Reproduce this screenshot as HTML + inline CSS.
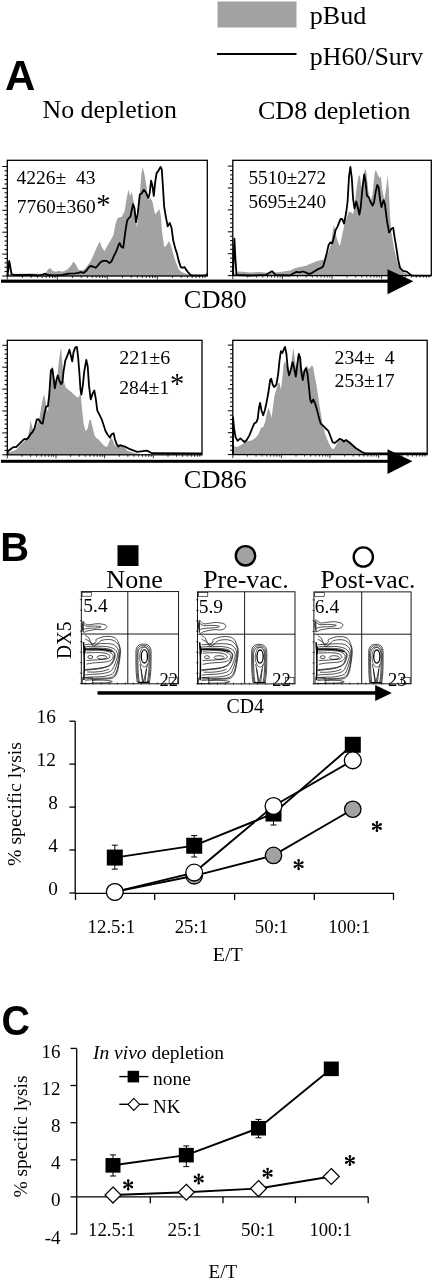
<!DOCTYPE html>
<html><head><meta charset="utf-8"><style>
html,body{margin:0;padding:0;background:#fff;width:434px;height:1280px;overflow:hidden}
svg{display:block;will-change:transform}
text{fill:#000}
</style></head><body>
<svg width="434" height="1280" viewBox="0 0 434 1280">
<rect width="434" height="1280" fill="#fff"/>
<rect x="217.5" y="1.5" width="79" height="26" fill="#a2a2a2"/>
<line x1="217" y1="54" x2="296.5" y2="54" stroke="#000" stroke-width="2"/>
<text x="309.8" y="23.9" style="font-family:'Liberation Serif',serif;font-size:24.5px;" textLength="56.5" lengthAdjust="spacingAndGlyphs" >pBud</text>
<text x="309.8" y="64.7" style="font-family:'Liberation Serif',serif;font-size:24.5px;" textLength="113.5" lengthAdjust="spacingAndGlyphs" >pH60/Surv</text>
<text x="5.0" y="90.4" style="font-family:'Liberation Sans',sans-serif;font-weight:bold;font-size:42px">A</text>
<text x="42.5" y="118.4" style="font-family:'Liberation Serif',serif;font-size:25.5px;" textLength="134.5" lengthAdjust="spacingAndGlyphs" >No depletion</text>
<text x="258" y="119.4" style="font-family:'Liberation Serif',serif;font-size:25.7px;" textLength="152.5" lengthAdjust="spacingAndGlyphs" >CD8 depletion</text>
<polygon points="7.5,276.0 8.0,274.0 30.0,273.4 39.7,273.7 46.1,272.9 47.7,269.7 50.2,268.1 52.6,270.8 55.8,271.8 59.0,270.8 62.3,271.8 67.1,269.7 71.1,265.6 73.5,261.6 76.0,264.8 78.4,269.7 81.6,270.5 84.8,268.9 88.1,264.8 90.0,262.3 92.8,256.8 96.2,248.5 99.7,241.6 101.8,247.1 104.5,251.2 107.3,245.7 110.7,240.2 113.5,234.7 115.6,223.6 117.7,218.1 121.8,216.7 124.6,211.2 126.6,198.7 128.4,189.7 130.1,196.0 131.8,191.8 133.6,201.5 135.6,215.3 137.0,227.7 138.4,215.3 139.8,194.6 141.4,173.8 142.8,166.9 144.6,175.2 146.7,187.7 148.3,200.1 150.4,198.0 152.4,201.5 153.8,208.4 155.2,214.6 157.3,211.8 159.4,209.1 160.7,215.3 162.1,231.9 164.2,247.1 166.3,245.7 169.0,240.9 171.1,245.7 173.2,254.0 175.9,262.3 178.7,269.2 181.5,272.0 187.0,274.1 189.8,274.8 195.0,275.5 207.0,275.5 207.0,276 7.5,276" fill="#a2a2a2"/>
<polyline points="7.5,276.0 8.3,270.0 9.2,260.8 10.2,266.0 11.5,274.0 14.0,275.0 30.0,275.0 39.7,275.3 42.9,274.5 45.3,273.7 47.7,275.0 54.2,275.3 62.3,275.0 68.7,273.7 75.2,273.4 78.4,272.9 80.8,272.1 84.0,272.9 86.5,270.5 88.9,267.3 90.5,266.0 92.8,266.5 95.5,267.8 97.6,265.8 100.4,262.3 103.1,260.9 106.6,260.9 109.4,263.0 111.4,261.6 113.5,256.8 116.3,251.2 118.3,245.7 119.7,243.0 121.1,246.4 123.2,247.8 125.3,231.9 127.1,220.8 128.7,218.1 130.4,216.7 131.5,211.2 133.1,204.2 134.5,208.4 136.0,222.2 137.7,213.9 139.8,194.6 141.8,193.2 143.9,189.7 146.0,192.5 148.3,198.0 149.7,193.2 151.1,180.7 152.4,185.6 153.8,196.0 155.2,182.1 156.6,173.1 158.7,170.4 160.5,166.9 161.8,169.7 162.8,184.9 164.2,207.0 165.6,215.3 167.7,226.4 169.7,222.9 171.5,227.7 173.2,240.2 175.3,248.5 177.1,254.0 178.7,260.9 180.8,267.1 182.9,267.8 184.5,267.1 186.3,269.9 188.4,272.7 190.5,274.8 192.5,275.4 206.0,275.2 207.3,274.0" fill="none" stroke="#000" stroke-width="1.8" stroke-linejoin="round"/>
<rect x="7.3" y="160.3" width="200.0" height="115.69999999999999" fill="none" stroke="#000" stroke-width="1.3"/>
<line x1="2.3" y1="276.0" x2="7.3" y2="276.0" stroke="#000" stroke-width="1"/>
<line x1="4.5" y1="271.6" x2="7.3" y2="271.6" stroke="#000" stroke-width="1"/>
<line x1="4.5" y1="267.2" x2="7.3" y2="267.2" stroke="#000" stroke-width="1"/>
<line x1="4.5" y1="262.9" x2="7.3" y2="262.9" stroke="#000" stroke-width="1"/>
<line x1="4.5" y1="258.5" x2="7.3" y2="258.5" stroke="#000" stroke-width="1"/>
<line x1="2.3" y1="254.1" x2="7.3" y2="254.1" stroke="#000" stroke-width="1"/>
<line x1="4.5" y1="249.7" x2="7.3" y2="249.7" stroke="#000" stroke-width="1"/>
<line x1="4.5" y1="245.3" x2="7.3" y2="245.3" stroke="#000" stroke-width="1"/>
<line x1="4.5" y1="241.0" x2="7.3" y2="241.0" stroke="#000" stroke-width="1"/>
<line x1="4.5" y1="236.6" x2="7.3" y2="236.6" stroke="#000" stroke-width="1"/>
<line x1="2.3" y1="232.2" x2="7.3" y2="232.2" stroke="#000" stroke-width="1"/>
<line x1="4.5" y1="227.8" x2="7.3" y2="227.8" stroke="#000" stroke-width="1"/>
<line x1="4.5" y1="223.4" x2="7.3" y2="223.4" stroke="#000" stroke-width="1"/>
<line x1="4.5" y1="219.1" x2="7.3" y2="219.1" stroke="#000" stroke-width="1"/>
<line x1="4.5" y1="214.7" x2="7.3" y2="214.7" stroke="#000" stroke-width="1"/>
<line x1="2.3" y1="210.3" x2="7.3" y2="210.3" stroke="#000" stroke-width="1"/>
<line x1="4.5" y1="205.9" x2="7.3" y2="205.9" stroke="#000" stroke-width="1"/>
<line x1="4.5" y1="201.5" x2="7.3" y2="201.5" stroke="#000" stroke-width="1"/>
<line x1="4.5" y1="197.2" x2="7.3" y2="197.2" stroke="#000" stroke-width="1"/>
<line x1="4.5" y1="192.8" x2="7.3" y2="192.8" stroke="#000" stroke-width="1"/>
<line x1="2.3" y1="188.4" x2="7.3" y2="188.4" stroke="#000" stroke-width="1"/>
<line x1="4.5" y1="184.0" x2="7.3" y2="184.0" stroke="#000" stroke-width="1"/>
<line x1="4.5" y1="179.6" x2="7.3" y2="179.6" stroke="#000" stroke-width="1"/>
<line x1="4.5" y1="175.3" x2="7.3" y2="175.3" stroke="#000" stroke-width="1"/>
<line x1="4.5" y1="170.9" x2="7.3" y2="170.9" stroke="#000" stroke-width="1"/>
<line x1="2.3" y1="166.5" x2="7.3" y2="166.5" stroke="#000" stroke-width="1"/>
<line x1="7.3" y1="276" x2="7.3" y2="279.5" stroke="#000" stroke-width="0.8"/>
<line x1="22.4" y1="276" x2="22.4" y2="278" stroke="#000" stroke-width="0.8"/>
<line x1="31.2" y1="276" x2="31.2" y2="278" stroke="#000" stroke-width="0.8"/>
<line x1="37.4" y1="276" x2="37.4" y2="278" stroke="#000" stroke-width="0.8"/>
<line x1="42.2" y1="276" x2="42.2" y2="278" stroke="#000" stroke-width="0.8"/>
<line x1="46.2" y1="276" x2="46.2" y2="278" stroke="#000" stroke-width="0.8"/>
<line x1="49.6" y1="276" x2="49.6" y2="278" stroke="#000" stroke-width="0.8"/>
<line x1="52.5" y1="276" x2="52.5" y2="278" stroke="#000" stroke-width="0.8"/>
<line x1="55.0" y1="276" x2="55.0" y2="278" stroke="#000" stroke-width="0.8"/>
<line x1="57.3" y1="276" x2="57.3" y2="279.5" stroke="#000" stroke-width="0.8"/>
<line x1="72.4" y1="276" x2="72.4" y2="278" stroke="#000" stroke-width="0.8"/>
<line x1="81.2" y1="276" x2="81.2" y2="278" stroke="#000" stroke-width="0.8"/>
<line x1="87.4" y1="276" x2="87.4" y2="278" stroke="#000" stroke-width="0.8"/>
<line x1="92.2" y1="276" x2="92.2" y2="278" stroke="#000" stroke-width="0.8"/>
<line x1="96.2" y1="276" x2="96.2" y2="278" stroke="#000" stroke-width="0.8"/>
<line x1="99.6" y1="276" x2="99.6" y2="278" stroke="#000" stroke-width="0.8"/>
<line x1="102.5" y1="276" x2="102.5" y2="278" stroke="#000" stroke-width="0.8"/>
<line x1="105.0" y1="276" x2="105.0" y2="278" stroke="#000" stroke-width="0.8"/>
<line x1="107.3" y1="276" x2="107.3" y2="279.5" stroke="#000" stroke-width="0.8"/>
<line x1="122.4" y1="276" x2="122.4" y2="278" stroke="#000" stroke-width="0.8"/>
<line x1="131.2" y1="276" x2="131.2" y2="278" stroke="#000" stroke-width="0.8"/>
<line x1="137.4" y1="276" x2="137.4" y2="278" stroke="#000" stroke-width="0.8"/>
<line x1="142.2" y1="276" x2="142.2" y2="278" stroke="#000" stroke-width="0.8"/>
<line x1="146.2" y1="276" x2="146.2" y2="278" stroke="#000" stroke-width="0.8"/>
<line x1="149.6" y1="276" x2="149.6" y2="278" stroke="#000" stroke-width="0.8"/>
<line x1="152.5" y1="276" x2="152.5" y2="278" stroke="#000" stroke-width="0.8"/>
<line x1="155.0" y1="276" x2="155.0" y2="278" stroke="#000" stroke-width="0.8"/>
<line x1="157.3" y1="276" x2="157.3" y2="279.5" stroke="#000" stroke-width="0.8"/>
<line x1="172.4" y1="276" x2="172.4" y2="278" stroke="#000" stroke-width="0.8"/>
<line x1="181.2" y1="276" x2="181.2" y2="278" stroke="#000" stroke-width="0.8"/>
<line x1="187.4" y1="276" x2="187.4" y2="278" stroke="#000" stroke-width="0.8"/>
<line x1="192.2" y1="276" x2="192.2" y2="278" stroke="#000" stroke-width="0.8"/>
<line x1="196.2" y1="276" x2="196.2" y2="278" stroke="#000" stroke-width="0.8"/>
<line x1="199.6" y1="276" x2="199.6" y2="278" stroke="#000" stroke-width="0.8"/>
<line x1="202.5" y1="276" x2="202.5" y2="278" stroke="#000" stroke-width="0.8"/>
<line x1="205.0" y1="276" x2="205.0" y2="278" stroke="#000" stroke-width="0.8"/>
<polygon points="233.0,275.6 235.0,272.0 240.0,271.5 250.0,272.5 260.0,272.0 270.0,273.0 280.0,272.0 290.0,270.6 294.8,268.2 299.7,267.1 306.1,265.8 311.0,263.4 317.4,261.0 324.7,259.4 328.7,251.3 331.1,243.2 332.7,231.9 333.9,224.7 335.2,230.3 336.8,238.4 339.2,244.8 340.0,245.7 342.8,231.9 344.8,223.6 347.6,215.3 349.0,211.2 351.1,212.5 353.1,213.9 354.5,205.6 356.6,187.7 358.7,175.2 360.0,175.9 361.4,187.7 363.5,175.2 365.2,168.3 366.5,172.4 368.3,190.4 370.4,201.5 372.5,194.6 374.6,173.8 375.7,169.7 377.3,173.8 379.4,178.0 380.8,176.6 382.2,189.0 384.2,200.1 386.3,187.7 387.4,175.2 388.7,187.7 390.0,215.3 391.4,231.9 393.2,243.0 395.3,254.0 397.4,262.3 400.0,269.2 404.0,272.5 409.3,274.5 415.0,275.6 415.0,275.6 233.0,275.6" fill="#a2a2a2"/>
<polyline points="233.0,275.5 234.0,250.0 234.4,238.7 235.2,255.0 236.5,275.0 250.0,275.5 265.6,275.0 269.0,273.0 272.0,271.2 275.8,275.0 290.0,275.5 293.2,273.5 296.5,271.9 299.7,272.3 302.9,271.5 306.1,272.6 308.5,273.9 311.0,273.5 314.2,271.5 317.4,269.4 320.6,268.2 323.1,266.6 324.7,261.0 326.8,252.9 328.7,244.8 330.3,242.4 332.3,243.2 333.9,237.6 335.5,230.3 337.6,226.3 339.2,222.3 340.5,219.2 342.1,218.8 344.1,223.6 346.2,212.5 347.6,201.5 349.0,176.6 350.4,166.9 351.8,178.0 353.1,198.7 354.5,208.4 356.3,201.5 357.7,207.0 359.4,214.6 360.7,207.0 362.4,189.0 364.2,174.5 365.6,182.1 367.0,196.0 368.8,197.3 370.4,201.5 372.5,205.6 373.9,202.9 375.7,191.8 377.3,184.9 378.7,187.7 380.1,200.1 381.5,207.0 383.6,200.1 384.9,204.2 387.0,220.8 389.1,232.6 391.2,229.1 393.2,227.7 394.6,237.4 396.7,249.9 398.1,259.5 400.0,267.8 403.0,270.8 406.7,271.6 410.6,274.8 412.5,275.6 431.0,275.6" fill="none" stroke="#000" stroke-width="1.8" stroke-linejoin="round"/>
<rect x="232.8" y="160.3" width="198.5" height="115.30000000000001" fill="none" stroke="#000" stroke-width="1.3"/>
<line x1="227.8" y1="275.6" x2="232.8" y2="275.6" stroke="#000" stroke-width="1"/>
<line x1="230.0" y1="271.2" x2="232.8" y2="271.2" stroke="#000" stroke-width="1"/>
<line x1="230.0" y1="266.8" x2="232.8" y2="266.8" stroke="#000" stroke-width="1"/>
<line x1="230.0" y1="262.5" x2="232.8" y2="262.5" stroke="#000" stroke-width="1"/>
<line x1="230.0" y1="258.1" x2="232.8" y2="258.1" stroke="#000" stroke-width="1"/>
<line x1="227.8" y1="253.7" x2="232.8" y2="253.7" stroke="#000" stroke-width="1"/>
<line x1="230.0" y1="249.3" x2="232.8" y2="249.3" stroke="#000" stroke-width="1"/>
<line x1="230.0" y1="244.9" x2="232.8" y2="244.9" stroke="#000" stroke-width="1"/>
<line x1="230.0" y1="240.6" x2="232.8" y2="240.6" stroke="#000" stroke-width="1"/>
<line x1="230.0" y1="236.2" x2="232.8" y2="236.2" stroke="#000" stroke-width="1"/>
<line x1="227.8" y1="231.8" x2="232.8" y2="231.8" stroke="#000" stroke-width="1"/>
<line x1="230.0" y1="227.4" x2="232.8" y2="227.4" stroke="#000" stroke-width="1"/>
<line x1="230.0" y1="223.0" x2="232.8" y2="223.0" stroke="#000" stroke-width="1"/>
<line x1="230.0" y1="218.7" x2="232.8" y2="218.7" stroke="#000" stroke-width="1"/>
<line x1="230.0" y1="214.3" x2="232.8" y2="214.3" stroke="#000" stroke-width="1"/>
<line x1="227.8" y1="209.9" x2="232.8" y2="209.9" stroke="#000" stroke-width="1"/>
<line x1="230.0" y1="205.5" x2="232.8" y2="205.5" stroke="#000" stroke-width="1"/>
<line x1="230.0" y1="201.1" x2="232.8" y2="201.1" stroke="#000" stroke-width="1"/>
<line x1="230.0" y1="196.8" x2="232.8" y2="196.8" stroke="#000" stroke-width="1"/>
<line x1="230.0" y1="192.4" x2="232.8" y2="192.4" stroke="#000" stroke-width="1"/>
<line x1="227.8" y1="188.0" x2="232.8" y2="188.0" stroke="#000" stroke-width="1"/>
<line x1="230.0" y1="183.6" x2="232.8" y2="183.6" stroke="#000" stroke-width="1"/>
<line x1="230.0" y1="179.2" x2="232.8" y2="179.2" stroke="#000" stroke-width="1"/>
<line x1="230.0" y1="174.9" x2="232.8" y2="174.9" stroke="#000" stroke-width="1"/>
<line x1="230.0" y1="170.5" x2="232.8" y2="170.5" stroke="#000" stroke-width="1"/>
<line x1="227.8" y1="166.1" x2="232.8" y2="166.1" stroke="#000" stroke-width="1"/>
<line x1="232.8" y1="275.6" x2="232.8" y2="279.1" stroke="#000" stroke-width="0.8"/>
<line x1="247.7" y1="275.6" x2="247.7" y2="277.6" stroke="#000" stroke-width="0.8"/>
<line x1="256.5" y1="275.6" x2="256.5" y2="277.6" stroke="#000" stroke-width="0.8"/>
<line x1="262.7" y1="275.6" x2="262.7" y2="277.6" stroke="#000" stroke-width="0.8"/>
<line x1="267.5" y1="275.6" x2="267.5" y2="277.6" stroke="#000" stroke-width="0.8"/>
<line x1="271.4" y1="275.6" x2="271.4" y2="277.6" stroke="#000" stroke-width="0.8"/>
<line x1="274.7" y1="275.6" x2="274.7" y2="277.6" stroke="#000" stroke-width="0.8"/>
<line x1="277.6" y1="275.6" x2="277.6" y2="277.6" stroke="#000" stroke-width="0.8"/>
<line x1="280.2" y1="275.6" x2="280.2" y2="277.6" stroke="#000" stroke-width="0.8"/>
<line x1="282.4" y1="275.6" x2="282.4" y2="279.1" stroke="#000" stroke-width="0.8"/>
<line x1="297.4" y1="275.6" x2="297.4" y2="277.6" stroke="#000" stroke-width="0.8"/>
<line x1="306.1" y1="275.6" x2="306.1" y2="277.6" stroke="#000" stroke-width="0.8"/>
<line x1="312.3" y1="275.6" x2="312.3" y2="277.6" stroke="#000" stroke-width="0.8"/>
<line x1="317.1" y1="275.6" x2="317.1" y2="277.6" stroke="#000" stroke-width="0.8"/>
<line x1="321.0" y1="275.6" x2="321.0" y2="277.6" stroke="#000" stroke-width="0.8"/>
<line x1="324.4" y1="275.6" x2="324.4" y2="277.6" stroke="#000" stroke-width="0.8"/>
<line x1="327.2" y1="275.6" x2="327.2" y2="277.6" stroke="#000" stroke-width="0.8"/>
<line x1="329.8" y1="275.6" x2="329.8" y2="277.6" stroke="#000" stroke-width="0.8"/>
<line x1="332.1" y1="275.6" x2="332.1" y2="279.1" stroke="#000" stroke-width="0.8"/>
<line x1="347.0" y1="275.6" x2="347.0" y2="277.6" stroke="#000" stroke-width="0.8"/>
<line x1="355.7" y1="275.6" x2="355.7" y2="277.6" stroke="#000" stroke-width="0.8"/>
<line x1="361.9" y1="275.6" x2="361.9" y2="277.6" stroke="#000" stroke-width="0.8"/>
<line x1="366.7" y1="275.6" x2="366.7" y2="277.6" stroke="#000" stroke-width="0.8"/>
<line x1="370.7" y1="275.6" x2="370.7" y2="277.6" stroke="#000" stroke-width="0.8"/>
<line x1="374.0" y1="275.6" x2="374.0" y2="277.6" stroke="#000" stroke-width="0.8"/>
<line x1="376.9" y1="275.6" x2="376.9" y2="277.6" stroke="#000" stroke-width="0.8"/>
<line x1="379.4" y1="275.6" x2="379.4" y2="277.6" stroke="#000" stroke-width="0.8"/>
<line x1="381.7" y1="275.6" x2="381.7" y2="279.1" stroke="#000" stroke-width="0.8"/>
<line x1="396.6" y1="275.6" x2="396.6" y2="277.6" stroke="#000" stroke-width="0.8"/>
<line x1="405.4" y1="275.6" x2="405.4" y2="277.6" stroke="#000" stroke-width="0.8"/>
<line x1="411.6" y1="275.6" x2="411.6" y2="277.6" stroke="#000" stroke-width="0.8"/>
<line x1="416.4" y1="275.6" x2="416.4" y2="277.6" stroke="#000" stroke-width="0.8"/>
<line x1="420.3" y1="275.6" x2="420.3" y2="277.6" stroke="#000" stroke-width="0.8"/>
<line x1="423.6" y1="275.6" x2="423.6" y2="277.6" stroke="#000" stroke-width="0.8"/>
<line x1="426.5" y1="275.6" x2="426.5" y2="277.6" stroke="#000" stroke-width="0.8"/>
<line x1="429.0" y1="275.6" x2="429.0" y2="277.6" stroke="#000" stroke-width="0.8"/>
<polygon points="7.6,454.0 7.8,452.7 11.9,451.3 16.1,449.9 20.2,445.1 24.4,440.9 27.8,438.2 29.6,428.5 30.6,420.2 32.0,425.7 33.3,431.2 35.4,428.5 37.5,423.0 39.6,417.4 41.2,406.4 43.0,398.1 44.1,394.6 45.4,400.8 46.8,409.1 48.1,411.9 49.5,389.8 50.9,371.8 52.7,365.6 54.1,377.3 55.0,387.0 56.8,381.5 58.9,360.7 60.3,351.1 61.1,347.6 62.5,364.9 63.9,381.5 65.5,387.0 68.3,389.8 71.1,391.8 73.8,394.6 76.6,396.7 78.7,397.4 80.5,392.0 81.8,406.4 83.5,423.0 85.6,431.2 87.7,428.5 89.3,420.2 90.7,419.5 92.5,427.1 94.6,435.4 96.6,438.2 98.7,439.5 101.5,443.0 104.2,445.8 107.0,447.1 109.1,442.3 110.9,436.8 112.5,439.5 114.6,445.1 116.7,446.5 120.0,445.1 124.0,446.6 127.0,450.6 135.0,453.2 140.0,454.0 140.0,454.8 7.6,454.8" fill="#a2a2a2"/>
<polyline points="7.6,454.0 7.8,451.3 10.5,449.2 13.3,447.1 16.1,447.1 18.8,444.4 21.6,441.6 24.4,438.9 26.4,439.5 28.5,437.5 30.6,434.0 32.7,431.9 34.7,427.8 36.8,419.5 38.9,419.5 40.9,423.0 42.6,423.6 44.4,414.0 46.2,406.4 47.9,406.4 49.2,395.3 50.9,370.4 52.3,369.0 53.7,378.7 54.8,388.4 56.4,380.1 57.8,375.3 59.2,380.1 61.0,384.2 62.4,382.0 63.5,371.8 65.3,360.7 67.6,355.2 69.4,349.7 70.8,355.2 72.2,361.4 73.5,352.4 75.2,347.6 76.9,346.9 78.2,358.0 79.4,373.2 80.5,389.8 81.4,394.6 82.8,385.6 84.2,371.8 86.3,360.0 87.7,366.3 89.0,385.6 90.7,399.4 92.5,393.9 94.3,390.5 95.7,398.1 97.3,410.5 99.4,414.7 101.5,418.8 103.6,425.0 105.6,431.2 107.7,434.7 109.8,437.5 111.8,434.0 113.6,433.3 115.0,439.5 116.7,444.4 118.3,446.5 120.0,445.1 125.0,446.6 130.0,449.2 137.0,451.9 147.0,450.6 152.0,453.2 202.0,453.5" fill="none" stroke="#000" stroke-width="1.8" stroke-linejoin="round"/>
<rect x="7.3" y="340.3" width="194.7" height="114.5" fill="none" stroke="#000" stroke-width="1.3"/>
<line x1="2.3" y1="454.8" x2="7.3" y2="454.8" stroke="#000" stroke-width="1"/>
<line x1="4.5" y1="450.4" x2="7.3" y2="450.4" stroke="#000" stroke-width="1"/>
<line x1="4.5" y1="446.0" x2="7.3" y2="446.0" stroke="#000" stroke-width="1"/>
<line x1="4.5" y1="441.7" x2="7.3" y2="441.7" stroke="#000" stroke-width="1"/>
<line x1="4.5" y1="437.3" x2="7.3" y2="437.3" stroke="#000" stroke-width="1"/>
<line x1="2.3" y1="432.9" x2="7.3" y2="432.9" stroke="#000" stroke-width="1"/>
<line x1="4.5" y1="428.5" x2="7.3" y2="428.5" stroke="#000" stroke-width="1"/>
<line x1="4.5" y1="424.1" x2="7.3" y2="424.1" stroke="#000" stroke-width="1"/>
<line x1="4.5" y1="419.8" x2="7.3" y2="419.8" stroke="#000" stroke-width="1"/>
<line x1="4.5" y1="415.4" x2="7.3" y2="415.4" stroke="#000" stroke-width="1"/>
<line x1="2.3" y1="411.0" x2="7.3" y2="411.0" stroke="#000" stroke-width="1"/>
<line x1="4.5" y1="406.6" x2="7.3" y2="406.6" stroke="#000" stroke-width="1"/>
<line x1="4.5" y1="402.2" x2="7.3" y2="402.2" stroke="#000" stroke-width="1"/>
<line x1="4.5" y1="397.9" x2="7.3" y2="397.9" stroke="#000" stroke-width="1"/>
<line x1="4.5" y1="393.5" x2="7.3" y2="393.5" stroke="#000" stroke-width="1"/>
<line x1="2.3" y1="389.1" x2="7.3" y2="389.1" stroke="#000" stroke-width="1"/>
<line x1="4.5" y1="384.7" x2="7.3" y2="384.7" stroke="#000" stroke-width="1"/>
<line x1="4.5" y1="380.3" x2="7.3" y2="380.3" stroke="#000" stroke-width="1"/>
<line x1="4.5" y1="376.0" x2="7.3" y2="376.0" stroke="#000" stroke-width="1"/>
<line x1="4.5" y1="371.6" x2="7.3" y2="371.6" stroke="#000" stroke-width="1"/>
<line x1="2.3" y1="367.2" x2="7.3" y2="367.2" stroke="#000" stroke-width="1"/>
<line x1="4.5" y1="362.8" x2="7.3" y2="362.8" stroke="#000" stroke-width="1"/>
<line x1="4.5" y1="358.4" x2="7.3" y2="358.4" stroke="#000" stroke-width="1"/>
<line x1="4.5" y1="354.1" x2="7.3" y2="354.1" stroke="#000" stroke-width="1"/>
<line x1="4.5" y1="349.7" x2="7.3" y2="349.7" stroke="#000" stroke-width="1"/>
<line x1="2.3" y1="345.3" x2="7.3" y2="345.3" stroke="#000" stroke-width="1"/>
<line x1="7.3" y1="454.8" x2="7.3" y2="458.3" stroke="#000" stroke-width="0.8"/>
<line x1="22.0" y1="454.8" x2="22.0" y2="456.8" stroke="#000" stroke-width="0.8"/>
<line x1="30.5" y1="454.8" x2="30.5" y2="456.8" stroke="#000" stroke-width="0.8"/>
<line x1="36.6" y1="454.8" x2="36.6" y2="456.8" stroke="#000" stroke-width="0.8"/>
<line x1="41.3" y1="454.8" x2="41.3" y2="456.8" stroke="#000" stroke-width="0.8"/>
<line x1="45.2" y1="454.8" x2="45.2" y2="456.8" stroke="#000" stroke-width="0.8"/>
<line x1="48.4" y1="454.8" x2="48.4" y2="456.8" stroke="#000" stroke-width="0.8"/>
<line x1="51.3" y1="454.8" x2="51.3" y2="456.8" stroke="#000" stroke-width="0.8"/>
<line x1="53.7" y1="454.8" x2="53.7" y2="456.8" stroke="#000" stroke-width="0.8"/>
<line x1="56.0" y1="454.8" x2="56.0" y2="458.3" stroke="#000" stroke-width="0.8"/>
<line x1="70.6" y1="454.8" x2="70.6" y2="456.8" stroke="#000" stroke-width="0.8"/>
<line x1="79.2" y1="454.8" x2="79.2" y2="456.8" stroke="#000" stroke-width="0.8"/>
<line x1="85.3" y1="454.8" x2="85.3" y2="456.8" stroke="#000" stroke-width="0.8"/>
<line x1="90.0" y1="454.8" x2="90.0" y2="456.8" stroke="#000" stroke-width="0.8"/>
<line x1="93.9" y1="454.8" x2="93.9" y2="456.8" stroke="#000" stroke-width="0.8"/>
<line x1="97.1" y1="454.8" x2="97.1" y2="456.8" stroke="#000" stroke-width="0.8"/>
<line x1="99.9" y1="454.8" x2="99.9" y2="456.8" stroke="#000" stroke-width="0.8"/>
<line x1="102.4" y1="454.8" x2="102.4" y2="456.8" stroke="#000" stroke-width="0.8"/>
<line x1="104.6" y1="454.8" x2="104.6" y2="458.3" stroke="#000" stroke-width="0.8"/>
<line x1="119.3" y1="454.8" x2="119.3" y2="456.8" stroke="#000" stroke-width="0.8"/>
<line x1="127.9" y1="454.8" x2="127.9" y2="456.8" stroke="#000" stroke-width="0.8"/>
<line x1="134.0" y1="454.8" x2="134.0" y2="456.8" stroke="#000" stroke-width="0.8"/>
<line x1="138.7" y1="454.8" x2="138.7" y2="456.8" stroke="#000" stroke-width="0.8"/>
<line x1="142.5" y1="454.8" x2="142.5" y2="456.8" stroke="#000" stroke-width="0.8"/>
<line x1="145.8" y1="454.8" x2="145.8" y2="456.8" stroke="#000" stroke-width="0.8"/>
<line x1="148.6" y1="454.8" x2="148.6" y2="456.8" stroke="#000" stroke-width="0.8"/>
<line x1="151.1" y1="454.8" x2="151.1" y2="456.8" stroke="#000" stroke-width="0.8"/>
<line x1="153.3" y1="454.8" x2="153.3" y2="458.3" stroke="#000" stroke-width="0.8"/>
<line x1="168.0" y1="454.8" x2="168.0" y2="456.8" stroke="#000" stroke-width="0.8"/>
<line x1="176.5" y1="454.8" x2="176.5" y2="456.8" stroke="#000" stroke-width="0.8"/>
<line x1="182.6" y1="454.8" x2="182.6" y2="456.8" stroke="#000" stroke-width="0.8"/>
<line x1="187.3" y1="454.8" x2="187.3" y2="456.8" stroke="#000" stroke-width="0.8"/>
<line x1="191.2" y1="454.8" x2="191.2" y2="456.8" stroke="#000" stroke-width="0.8"/>
<line x1="194.5" y1="454.8" x2="194.5" y2="456.8" stroke="#000" stroke-width="0.8"/>
<line x1="197.3" y1="454.8" x2="197.3" y2="456.8" stroke="#000" stroke-width="0.8"/>
<line x1="199.8" y1="454.8" x2="199.8" y2="456.8" stroke="#000" stroke-width="0.8"/>
<polygon points="233.0,454.0 233.5,445.1 235.5,447.1 238.3,446.5 241.1,445.1 243.8,443.0 246.6,441.6 249.4,440.9 252.1,440.2 254.9,438.2 257.7,435.4 259.7,431.2 261.1,427.8 263.2,427.1 265.3,421.6 267.1,411.9 268.7,407.7 270.4,413.3 271.5,418.1 272.9,407.7 274.5,395.3 276.3,389.8 278.1,382.9 279.5,382.9 280.9,389.8 282.3,378.7 283.6,364.9 285.0,360.7 286.4,365.0 287.8,364.9 289.8,374.6 291.9,358.0 293.3,347.6 294.7,358.0 296.1,369.0 297.7,356.6 299.5,353.8 301.3,364.9 303.0,371.8 305.0,367.7 307.1,365.6 308.5,369.0 310.2,367.7 312.0,364.9 313.3,367.7 314.7,375.9 316.5,385.6 318.2,396.7 320.3,410.5 322.3,423.0 325.1,434.0 327.9,440.9 330.6,446.5 332.7,449.2 334.1,448.5 336.2,445.1 338.2,440.9 340.3,439.5 343.1,440.2 345.0,440.6 350.0,441.6 355.0,446.9 362.0,452.1 366.0,453.5 366.0,454.6 233.0,454.6" fill="#a2a2a2"/>
<polyline points="233.0,454.0 233.0,417.4 234.1,428.5 235.5,436.8 237.6,440.9 240.4,438.4 242.4,440.2 244.5,442.0 246.6,440.2 249.4,435.4 252.1,428.5 254.2,423.6 256.3,422.3 257.7,418.8 259.0,407.7 260.1,402.9 261.5,410.5 263.2,415.3 264.8,410.5 266.6,402.2 268.4,392.5 270.1,380.1 271.2,378.7 272.6,384.2 274.2,387.0 276.3,384.9 278.1,374.6 279.5,360.7 280.9,351.1 282.3,353.1 283.6,349.7 285.0,346.9 286.4,353.8 287.8,369.0 289.1,375.3 290.8,369.7 292.6,362.1 294.0,367.7 295.8,376.6 297.4,363.5 298.8,353.8 300.2,358.0 301.3,371.8 302.7,380.1 304.4,371.1 306.0,368.3 307.4,373.2 308.8,385.6 310.2,399.4 311.5,402.9 313.3,399.4 315.1,403.6 316.8,409.1 318.9,417.4 320.7,423.6 323.0,425.7 325.8,428.5 328.5,431.2 330.6,436.8 332.7,442.3 334.8,443.0 337.3,440.9 339.6,438.9 341.7,439.5 343.8,441.6 346.0,440.0 350.0,443.0 356.0,448.2 362.0,452.1 366.0,453.5 427.0,453.5" fill="none" stroke="#000" stroke-width="1.8" stroke-linejoin="round"/>
<rect x="232.8" y="340.3" width="194.39999999999998" height="114.30000000000001" fill="none" stroke="#000" stroke-width="1.3"/>
<line x1="227.8" y1="454.6" x2="232.8" y2="454.6" stroke="#000" stroke-width="1"/>
<line x1="230.0" y1="450.2" x2="232.8" y2="450.2" stroke="#000" stroke-width="1"/>
<line x1="230.0" y1="445.8" x2="232.8" y2="445.8" stroke="#000" stroke-width="1"/>
<line x1="230.0" y1="441.5" x2="232.8" y2="441.5" stroke="#000" stroke-width="1"/>
<line x1="230.0" y1="437.1" x2="232.8" y2="437.1" stroke="#000" stroke-width="1"/>
<line x1="227.8" y1="432.7" x2="232.8" y2="432.7" stroke="#000" stroke-width="1"/>
<line x1="230.0" y1="428.3" x2="232.8" y2="428.3" stroke="#000" stroke-width="1"/>
<line x1="230.0" y1="423.9" x2="232.8" y2="423.9" stroke="#000" stroke-width="1"/>
<line x1="230.0" y1="419.6" x2="232.8" y2="419.6" stroke="#000" stroke-width="1"/>
<line x1="230.0" y1="415.2" x2="232.8" y2="415.2" stroke="#000" stroke-width="1"/>
<line x1="227.8" y1="410.8" x2="232.8" y2="410.8" stroke="#000" stroke-width="1"/>
<line x1="230.0" y1="406.4" x2="232.8" y2="406.4" stroke="#000" stroke-width="1"/>
<line x1="230.0" y1="402.0" x2="232.8" y2="402.0" stroke="#000" stroke-width="1"/>
<line x1="230.0" y1="397.7" x2="232.8" y2="397.7" stroke="#000" stroke-width="1"/>
<line x1="230.0" y1="393.3" x2="232.8" y2="393.3" stroke="#000" stroke-width="1"/>
<line x1="227.8" y1="388.9" x2="232.8" y2="388.9" stroke="#000" stroke-width="1"/>
<line x1="230.0" y1="384.5" x2="232.8" y2="384.5" stroke="#000" stroke-width="1"/>
<line x1="230.0" y1="380.1" x2="232.8" y2="380.1" stroke="#000" stroke-width="1"/>
<line x1="230.0" y1="375.8" x2="232.8" y2="375.8" stroke="#000" stroke-width="1"/>
<line x1="230.0" y1="371.4" x2="232.8" y2="371.4" stroke="#000" stroke-width="1"/>
<line x1="227.8" y1="367.0" x2="232.8" y2="367.0" stroke="#000" stroke-width="1"/>
<line x1="230.0" y1="362.6" x2="232.8" y2="362.6" stroke="#000" stroke-width="1"/>
<line x1="230.0" y1="358.2" x2="232.8" y2="358.2" stroke="#000" stroke-width="1"/>
<line x1="230.0" y1="353.9" x2="232.8" y2="353.9" stroke="#000" stroke-width="1"/>
<line x1="230.0" y1="349.5" x2="232.8" y2="349.5" stroke="#000" stroke-width="1"/>
<line x1="227.8" y1="345.1" x2="232.8" y2="345.1" stroke="#000" stroke-width="1"/>
<line x1="232.8" y1="454.6" x2="232.8" y2="458.1" stroke="#000" stroke-width="0.8"/>
<line x1="247.4" y1="454.6" x2="247.4" y2="456.6" stroke="#000" stroke-width="0.8"/>
<line x1="256.0" y1="454.6" x2="256.0" y2="456.6" stroke="#000" stroke-width="0.8"/>
<line x1="262.1" y1="454.6" x2="262.1" y2="456.6" stroke="#000" stroke-width="0.8"/>
<line x1="266.8" y1="454.6" x2="266.8" y2="456.6" stroke="#000" stroke-width="0.8"/>
<line x1="270.6" y1="454.6" x2="270.6" y2="456.6" stroke="#000" stroke-width="0.8"/>
<line x1="273.9" y1="454.6" x2="273.9" y2="456.6" stroke="#000" stroke-width="0.8"/>
<line x1="276.7" y1="454.6" x2="276.7" y2="456.6" stroke="#000" stroke-width="0.8"/>
<line x1="279.2" y1="454.6" x2="279.2" y2="456.6" stroke="#000" stroke-width="0.8"/>
<line x1="281.4" y1="454.6" x2="281.4" y2="458.1" stroke="#000" stroke-width="0.8"/>
<line x1="296.0" y1="454.6" x2="296.0" y2="456.6" stroke="#000" stroke-width="0.8"/>
<line x1="304.6" y1="454.6" x2="304.6" y2="456.6" stroke="#000" stroke-width="0.8"/>
<line x1="310.7" y1="454.6" x2="310.7" y2="456.6" stroke="#000" stroke-width="0.8"/>
<line x1="315.4" y1="454.6" x2="315.4" y2="456.6" stroke="#000" stroke-width="0.8"/>
<line x1="319.2" y1="454.6" x2="319.2" y2="456.6" stroke="#000" stroke-width="0.8"/>
<line x1="322.5" y1="454.6" x2="322.5" y2="456.6" stroke="#000" stroke-width="0.8"/>
<line x1="325.3" y1="454.6" x2="325.3" y2="456.6" stroke="#000" stroke-width="0.8"/>
<line x1="327.8" y1="454.6" x2="327.8" y2="456.6" stroke="#000" stroke-width="0.8"/>
<line x1="330.0" y1="454.6" x2="330.0" y2="458.1" stroke="#000" stroke-width="0.8"/>
<line x1="344.6" y1="454.6" x2="344.6" y2="456.6" stroke="#000" stroke-width="0.8"/>
<line x1="353.2" y1="454.6" x2="353.2" y2="456.6" stroke="#000" stroke-width="0.8"/>
<line x1="359.3" y1="454.6" x2="359.3" y2="456.6" stroke="#000" stroke-width="0.8"/>
<line x1="364.0" y1="454.6" x2="364.0" y2="456.6" stroke="#000" stroke-width="0.8"/>
<line x1="367.8" y1="454.6" x2="367.8" y2="456.6" stroke="#000" stroke-width="0.8"/>
<line x1="371.1" y1="454.6" x2="371.1" y2="456.6" stroke="#000" stroke-width="0.8"/>
<line x1="373.9" y1="454.6" x2="373.9" y2="456.6" stroke="#000" stroke-width="0.8"/>
<line x1="376.4" y1="454.6" x2="376.4" y2="456.6" stroke="#000" stroke-width="0.8"/>
<line x1="378.6" y1="454.6" x2="378.6" y2="458.1" stroke="#000" stroke-width="0.8"/>
<line x1="393.2" y1="454.6" x2="393.2" y2="456.6" stroke="#000" stroke-width="0.8"/>
<line x1="401.8" y1="454.6" x2="401.8" y2="456.6" stroke="#000" stroke-width="0.8"/>
<line x1="407.9" y1="454.6" x2="407.9" y2="456.6" stroke="#000" stroke-width="0.8"/>
<line x1="412.6" y1="454.6" x2="412.6" y2="456.6" stroke="#000" stroke-width="0.8"/>
<line x1="416.4" y1="454.6" x2="416.4" y2="456.6" stroke="#000" stroke-width="0.8"/>
<line x1="419.7" y1="454.6" x2="419.7" y2="456.6" stroke="#000" stroke-width="0.8"/>
<line x1="422.5" y1="454.6" x2="422.5" y2="456.6" stroke="#000" stroke-width="0.8"/>
<line x1="425.0" y1="454.6" x2="425.0" y2="456.6" stroke="#000" stroke-width="0.8"/>
<rect x="1" y="279.6" width="388" height="3.2" fill="#000"/>
<polygon points="387.5,269.2 413.4,281.3 387.5,294.2" fill="#000"/>
<rect x="1" y="459.8" width="388" height="3" fill="#000"/>
<polygon points="387.5,449.3 412.5,461.3 387.5,474" fill="#000"/>
<text x="16.5" y="183.5" style="font-family:'Liberation Serif',serif;font-size:18.8px;" textLength="79" lengthAdjust="spacingAndGlyphs" >4226±&#160;&#160;43</text>
<text x="16.8" y="212.5" style="font-family:'Liberation Serif',serif;font-size:18.8px;" textLength="79" lengthAdjust="spacingAndGlyphs" >7760±360</text>
<text x="96.2" y="213.7" style="font-family:'Liberation Serif',serif;font-size:28.5px;" >*</text>
<text x="248.5" y="184.2" style="font-family:'Liberation Serif',serif;font-size:18.8px;" textLength="77.5" lengthAdjust="spacingAndGlyphs" >5510±272</text>
<text x="248.5" y="207.5" style="font-family:'Liberation Serif',serif;font-size:18.8px;" textLength="77.5" lengthAdjust="spacingAndGlyphs" >5695±240</text>
<text x="183.8" y="308.2" style="font-family:'Liberation Serif',serif;font-size:24.5px;" textLength="63" lengthAdjust="spacingAndGlyphs" >CD80</text>
<text x="119.3" y="364" style="font-family:'Liberation Serif',serif;font-size:18.8px;" textLength="51" lengthAdjust="spacingAndGlyphs" >221±6</text>
<text x="119.3" y="393.6" style="font-family:'Liberation Serif',serif;font-size:18.8px;" textLength="50" lengthAdjust="spacingAndGlyphs" >284±1</text>
<text x="170" y="393.3" style="font-family:'Liberation Serif',serif;font-size:28.5px;" >*</text>
<text x="334.6" y="364.1" style="font-family:'Liberation Serif',serif;font-size:18.8px;" textLength="60" lengthAdjust="spacingAndGlyphs" >234±&#160;&#160;4</text>
<text x="334.6" y="387.3" style="font-family:'Liberation Serif',serif;font-size:18.8px;" textLength="60" lengthAdjust="spacingAndGlyphs" >253±17</text>
<text x="183.8" y="488.2" style="font-family:'Liberation Serif',serif;font-size:24.5px;" textLength="63" lengthAdjust="spacingAndGlyphs" >CD86</text>
<text x="0.2" y="560.6" style="font-family:'Liberation Sans',sans-serif;font-weight:bold;font-size:40px">B</text>
<rect x="117.5" y="545.2" width="21" height="20.8" fill="#000"/>
<circle cx="245.5" cy="555.8" r="9.7" fill="#a2a2a2" stroke="#000" stroke-width="2.4"/>
<circle cx="363.3" cy="557" r="9.6" fill="#fff" stroke="#000" stroke-width="2.4"/>
<text x="106.3" y="587.7" style="font-family:'Liberation Serif',serif;font-size:24.5px;" textLength="56.5" lengthAdjust="spacingAndGlyphs" >None</text>
<text x="203.2" y="587.5" style="font-family:'Liberation Serif',serif;font-size:24.5px;" textLength="85.5" lengthAdjust="spacingAndGlyphs" >Pre-vac.</text>
<text x="320.5" y="587.9" style="font-family:'Liberation Serif',serif;font-size:24.5px;" textLength="95" lengthAdjust="spacingAndGlyphs" >Post-vac.</text>
<rect x="81.3" y="591.6" width="97.3" height="92.19999999999993" fill="none" stroke="#000" stroke-width="0.9"/>
<line x1="127.8" y1="591.6" x2="127.8" y2="683.8" stroke="#000" stroke-width="0.9"/>
<line x1="81.3" y1="634" x2="178.6" y2="634" stroke="#000" stroke-width="0.9"/>
<rect x="82.1" y="592.4" width="9.5" height="3.8" fill="none" stroke="#000" stroke-width="0.6"/>
<rect x="82.5" y="677.8" width="10" height="5.8" fill="none" stroke="#000" stroke-width="0.6"/>
<line x1="79.8" y1="599.6" x2="82.3" y2="599.6" stroke="#000" stroke-width="0.6"/>
<line x1="79.8" y1="610.1" x2="82.3" y2="610.1" stroke="#000" stroke-width="0.6"/>
<line x1="79.8" y1="620.6" x2="82.3" y2="620.6" stroke="#000" stroke-width="0.6"/>
<line x1="79.8" y1="631.1" x2="82.3" y2="631.1" stroke="#000" stroke-width="0.6"/>
<line x1="79.8" y1="641.6" x2="82.3" y2="641.6" stroke="#000" stroke-width="0.6"/>
<line x1="79.8" y1="652.1" x2="82.3" y2="652.1" stroke="#000" stroke-width="0.6"/>
<line x1="79.8" y1="662.6" x2="82.3" y2="662.6" stroke="#000" stroke-width="0.6"/>
<line x1="79.8" y1="673.1" x2="82.3" y2="673.1" stroke="#000" stroke-width="0.6"/>
<line x1="79.8" y1="683.6" x2="82.3" y2="683.6" stroke="#000" stroke-width="0.6"/>
<line x1="85.3" y1="682.3" x2="85.3" y2="684.8" stroke="#000" stroke-width="0.5"/>
<line x1="93.3" y1="682.3" x2="93.3" y2="684.8" stroke="#000" stroke-width="0.5"/>
<line x1="101.3" y1="682.3" x2="101.3" y2="684.8" stroke="#000" stroke-width="0.5"/>
<line x1="109.3" y1="682.3" x2="109.3" y2="684.8" stroke="#000" stroke-width="0.5"/>
<line x1="117.3" y1="682.3" x2="117.3" y2="684.8" stroke="#000" stroke-width="0.5"/>
<line x1="125.3" y1="682.3" x2="125.3" y2="684.8" stroke="#000" stroke-width="0.5"/>
<line x1="133.3" y1="682.3" x2="133.3" y2="684.8" stroke="#000" stroke-width="0.5"/>
<line x1="141.3" y1="682.3" x2="141.3" y2="684.8" stroke="#000" stroke-width="0.5"/>
<line x1="149.3" y1="682.3" x2="149.3" y2="684.8" stroke="#000" stroke-width="0.5"/>
<line x1="157.3" y1="682.3" x2="157.3" y2="684.8" stroke="#000" stroke-width="0.5"/>
<line x1="165.3" y1="682.3" x2="165.3" y2="684.8" stroke="#000" stroke-width="0.5"/>
<line x1="173.3" y1="682.3" x2="173.3" y2="684.8" stroke="#000" stroke-width="0.5"/>
<g fill="none" stroke="#000" stroke-width="0.7"><path d="M82.6,622.3 C83.3,621.1 85.3,624.4 87.0,624.8 C88.6,625.1 90.5,624.5 92.4,624.3 C94.3,624.1 96.3,623.6 98.4,623.7 C100.5,623.8 103.8,624.3 105.2,624.9 C106.5,625.4 107.1,626.4 106.8,627.2 C106.5,628.0 105.1,629.2 103.3,629.6 C101.6,630.0 98.5,629.3 96.5,629.4 C94.5,629.5 92.9,630.0 91.3,630.2 C89.7,630.5 88.3,630.7 87.0,631.0 C85.6,631.3 83.9,633.4 83.2,631.9 C82.5,630.4 82.0,623.5 82.6,622.3Z"/><path d="M82.6,624.3 C83.3,623.8 85.1,626.0 86.7,626.3 C88.3,626.6 90.1,626.1 92.1,626.1 C94.0,626.0 96.9,626.0 98.4,626.2 C99.9,626.4 101.5,626.8 101.1,627.1 C100.6,627.4 97.7,627.8 95.7,628.0 C93.8,628.2 91.2,628.1 89.4,628.3 C87.6,628.5 86.0,628.7 84.9,628.9 C83.8,629.1 83.0,630.3 82.6,629.5 C82.3,628.7 82.0,624.8 82.6,624.3Z"/><path d="M85.2,635.4 C85.8,635.8 88.0,636.9 88.8,637.8 C89.6,638.7 89.4,639.8 90.0,640.8 C90.6,641.8 91.4,643.6 92.4,643.8 C93.4,644.0 95.4,642.7 96.0,642.0 C96.6,641.3 95.6,640.2 96.0,639.6 C96.4,639.0 97.0,638.9 98.4,638.4 C99.8,637.9 102.2,636.9 104.4,636.6 C106.6,636.3 109.5,636.2 111.5,636.6 C113.5,637.0 115.0,637.6 116.3,639.0 C117.6,640.4 118.6,643.0 119.3,645.0 C120.0,647.0 120.4,648.8 120.5,651.0 C120.6,653.2 120.2,655.7 119.9,658.1 C119.6,660.5 119.1,663.1 118.7,665.3 C118.3,667.5 118.1,669.5 117.5,671.3 C116.9,673.1 116.1,674.9 115.1,676.1 C114.1,677.3 113.7,678.0 111.5,678.5 C109.3,679.0 105.2,678.9 102.0,679.1 C98.8,679.3 95.2,679.5 92.4,679.7 C89.6,679.9 86.4,680.2 85.2,680.3"/><path d="M85.2,644.5 C86.9,644.4 91.8,644.2 95.3,644.0 C98.8,643.8 103.1,643.3 106.3,643.5 C109.5,643.7 112.3,643.9 114.3,645.0 C116.3,646.1 117.5,648.2 118.3,650.0 C119.0,651.8 119.0,653.8 118.8,656.0 C118.6,658.2 117.9,660.8 117.3,663.0 C116.7,665.2 116.1,667.2 115.3,669.0 C114.5,670.8 114.3,672.8 112.3,674.0 C110.3,675.2 106.6,676.0 103.3,676.5 C100.0,677.0 95.3,676.8 92.3,677.0 C89.3,677.2 86.4,677.4 85.2,677.5"/><path d="M85.2,646.8 C87.0,646.7 92.2,646.2 96.0,646.2 C99.8,646.2 104.8,646.2 108.0,646.8 C111.2,647.4 113.5,648.4 115.1,649.7 C116.7,651.0 117.3,652.7 117.5,654.5 C117.7,656.3 116.9,658.5 116.3,660.5 C115.7,662.5 114.9,664.7 113.9,666.5 C112.9,668.3 112.4,670.1 110.4,671.3 C108.4,672.5 105.0,673.2 102.0,673.7 C99.0,674.2 95.2,674.1 92.4,674.3 C89.6,674.5 86.4,674.8 85.2,674.9"/><path d="M85.2,648.5 C87.2,648.4 93.2,647.9 97.2,648.0 C101.2,648.1 106.4,648.4 109.2,649.1 C112.0,649.8 112.9,651.0 113.9,652.1 C114.9,653.2 115.1,654.3 115.1,655.7 C115.1,657.1 114.7,658.9 113.9,660.5 C113.1,662.1 112.4,664.1 110.4,665.3 C108.4,666.5 105.0,667.1 102.0,667.7 C99.0,668.3 95.2,668.6 92.4,668.9 C89.6,669.2 86.4,669.4 85.2,669.5"/><path d="M86.4,651.0 C88.4,650.9 94.8,650.2 98.4,650.3 C102.0,650.4 105.6,650.8 108.0,651.5 C110.4,652.2 111.9,653.4 112.7,654.5 C113.5,655.6 113.3,657.0 112.7,658.1 C112.1,659.2 111.0,660.4 109.2,661.1 C107.4,661.8 104.6,662.0 102.0,662.3 C99.4,662.6 96.2,662.6 93.6,662.9 C91.0,663.2 87.6,663.9 86.4,664.1"/><path d="M86.3,653.0 C88.3,652.9 95.0,652.4 98.3,652.5 C101.6,652.6 104.4,652.9 106.3,653.5 C108.2,654.1 109.5,655.2 109.8,656.0 C110.1,656.8 109.7,657.9 108.3,658.5 C106.9,659.1 103.8,659.2 101.3,659.5 C98.8,659.8 95.8,659.8 93.3,660.0 C90.8,660.2 87.5,660.4 86.3,660.5"/><path d="M85.2,649.6 C87.2,649.5 93.3,649.1 97.3,649.2 C101.3,649.3 106.5,649.5 109.3,650.2 C112.1,650.9 113.5,652.4 114.3,653.5 C115.1,654.6 114.6,655.6 114.3,657.0 C114.0,658.4 113.3,660.5 112.3,662.0 C111.3,663.5 110.1,664.9 108.3,666.0 C106.5,667.1 104.0,667.9 101.3,668.5 C98.6,669.1 95.0,669.2 92.3,669.5 C89.6,669.8 86.4,670.3 85.2,670.5"/><path d="M85.2,639.0 C86.0,639.5 89.0,640.8 90.3,642.0 C91.6,643.2 92.1,645.7 93.3,646.0 C94.5,646.3 96.0,644.9 97.3,644.0 C98.6,643.1 99.3,641.2 101.3,640.5 C103.3,639.8 107.0,639.3 109.3,639.5 C111.6,639.7 113.6,640.2 115.3,641.5 C117.0,642.8 118.6,644.9 119.3,647.0 C120.0,649.1 119.7,651.7 119.6,654.0 C119.5,656.3 119.2,658.8 118.9,661.0 C118.6,663.2 118.2,665.2 117.8,667.0 C117.4,668.8 117.0,670.5 116.3,672.0 C115.6,673.5 115.1,675.0 113.8,676.0 C112.5,677.0 110.7,677.6 108.3,678.0 C105.9,678.4 102.1,678.1 99.3,678.2 C96.5,678.3 93.6,678.4 91.3,678.5 C89.0,678.6 86.2,678.9 85.2,679.0"/><path d="M87.3,672.0 C88.6,672.0 92.6,672.2 95.3,672.0 C98.0,671.8 101.0,671.5 103.3,671.0 C105.6,670.5 108.3,669.3 109.3,669.0"/><ellipse cx="102.0" cy="657.3" rx="5" ry="1.8"/><ellipse cx="90.3" cy="657" rx="2.5" ry="1.5"/><path d="M92.3,680.5 C99.3,679.8 109.3,680 112.3,681.5 C111.3,683 99.3,683.2 92.3,682.8"/><path d="M137.3,682.6 C135.9,674 135.9,666 135.9,652.1 C135.9,646.1 138.9,644.1 143.5,644.1 C148.1,644.1 151.1,646.1 151.1,652.1 C151.1,666 151.1,674 149.3,682.6"/><path d="M138.3,682.6 C136.9,674 136.9,666 136.9,653.5 C136.9,647.5 139.5,645.5 143.5,645.5 C147.5,645.5 150.1,647.5 150.1,653.5 C150.1,666 150.1,674 148.3,682.6"/><path d="M139.3,682.6 C137.9,674 137.9,666 137.9,655.0 C137.9,649.0 140.1,647.0 143.5,647.0 C146.9,647.0 149.1,649.0 149.1,655.0 C149.1,666 149.1,674 147.3,682.6"/><path d="M140.0,664 L143.5,682.5 L147.5,664 M141.0,669 L142.5,682.5 M146.5,669 L145.0,682.5"/></g>
<ellipse cx="144.4" cy="656.4" rx="3.1" ry="6.6" fill="none" stroke="#000" stroke-width="1.3"/>
<rect x="169.1" y="677.5" width="8.5" height="6" fill="none" stroke="#000" stroke-width="0.6"/>
<ellipse cx="144.4" cy="657" rx="4.8" ry="10" fill="none" stroke="#444" stroke-width="0.8"/>
<line x1="138.0" y1="682.4" x2="149.5" y2="682.4" stroke="#000" stroke-width="1.2"/>
<path d="M84.3,649.3 C93.3,648.6 105.3,649 112.3,651.5" fill="none" stroke="#000" stroke-width="1.1"/>
<path d="M83.3,621 L83.3,632" stroke="#333" stroke-width="1"/>
<path d="M83.5,642 C84.5,654 84.5,666 83.89999999999999,680" fill="none" stroke="#000" stroke-width="1.5"/>
<path d="M83.8,646 C85.1,648 85.1,652 84.1,654" fill="none" stroke="#000" stroke-width="1.8"/>
<rect x="197.5" y="591.8" width="97.5" height="92.10000000000002" fill="none" stroke="#000" stroke-width="0.9"/>
<line x1="244.6" y1="591.8" x2="244.6" y2="683.9" stroke="#000" stroke-width="0.9"/>
<line x1="197.5" y1="634.2" x2="295" y2="634.2" stroke="#000" stroke-width="0.9"/>
<rect x="198.3" y="592.5999999999999" width="9.5" height="3.8" fill="none" stroke="#000" stroke-width="0.6"/>
<rect x="198.7" y="677.9" width="10" height="5.8" fill="none" stroke="#000" stroke-width="0.6"/>
<line x1="196.0" y1="599.8" x2="198.5" y2="599.8" stroke="#000" stroke-width="0.6"/>
<line x1="196.0" y1="610.3" x2="198.5" y2="610.3" stroke="#000" stroke-width="0.6"/>
<line x1="196.0" y1="620.8" x2="198.5" y2="620.8" stroke="#000" stroke-width="0.6"/>
<line x1="196.0" y1="631.3" x2="198.5" y2="631.3" stroke="#000" stroke-width="0.6"/>
<line x1="196.0" y1="641.8" x2="198.5" y2="641.8" stroke="#000" stroke-width="0.6"/>
<line x1="196.0" y1="652.3" x2="198.5" y2="652.3" stroke="#000" stroke-width="0.6"/>
<line x1="196.0" y1="662.8" x2="198.5" y2="662.8" stroke="#000" stroke-width="0.6"/>
<line x1="196.0" y1="673.3" x2="198.5" y2="673.3" stroke="#000" stroke-width="0.6"/>
<line x1="196.0" y1="683.8" x2="198.5" y2="683.8" stroke="#000" stroke-width="0.6"/>
<line x1="201.5" y1="682.4" x2="201.5" y2="684.9" stroke="#000" stroke-width="0.5"/>
<line x1="209.5" y1="682.4" x2="209.5" y2="684.9" stroke="#000" stroke-width="0.5"/>
<line x1="217.5" y1="682.4" x2="217.5" y2="684.9" stroke="#000" stroke-width="0.5"/>
<line x1="225.5" y1="682.4" x2="225.5" y2="684.9" stroke="#000" stroke-width="0.5"/>
<line x1="233.5" y1="682.4" x2="233.5" y2="684.9" stroke="#000" stroke-width="0.5"/>
<line x1="241.5" y1="682.4" x2="241.5" y2="684.9" stroke="#000" stroke-width="0.5"/>
<line x1="249.5" y1="682.4" x2="249.5" y2="684.9" stroke="#000" stroke-width="0.5"/>
<line x1="257.5" y1="682.4" x2="257.5" y2="684.9" stroke="#000" stroke-width="0.5"/>
<line x1="265.5" y1="682.4" x2="265.5" y2="684.9" stroke="#000" stroke-width="0.5"/>
<line x1="273.5" y1="682.4" x2="273.5" y2="684.9" stroke="#000" stroke-width="0.5"/>
<line x1="281.5" y1="682.4" x2="281.5" y2="684.9" stroke="#000" stroke-width="0.5"/>
<line x1="289.5" y1="682.4" x2="289.5" y2="684.9" stroke="#000" stroke-width="0.5"/>
<g fill="none" stroke="#000" stroke-width="0.7"><path d="M199.0,620.7 C199.7,619.2 202.0,623.4 203.8,623.8 C205.6,624.2 207.7,623.4 209.8,623.2 C211.9,623.0 214.1,622.3 216.5,622.4 C218.9,622.5 222.4,623.2 224.0,623.9 C225.6,624.6 226.1,625.8 225.8,626.8 C225.5,627.8 223.9,629.3 222.0,629.8 C220.1,630.3 216.6,629.5 214.4,629.6 C212.2,629.7 210.4,630.3 208.6,630.6 C206.8,630.9 205.3,631.2 203.8,631.6 C202.3,632.0 200.4,634.5 199.6,632.7 C198.8,630.9 198.3,622.2 199.0,620.7Z"/><path d="M199.0,623.2 C199.8,622.5 201.8,625.3 203.5,625.7 C205.2,626.1 207.3,625.4 209.5,625.4 C211.7,625.4 214.8,625.4 216.5,625.6 C218.2,625.8 220.0,626.3 219.5,626.7 C219.0,627.1 215.7,627.6 213.5,627.8 C211.3,628.1 208.5,628.0 206.5,628.2 C204.5,628.4 202.8,628.8 201.5,629.0 C200.2,629.2 199.4,630.7 199.0,629.7 C198.6,628.7 198.2,623.9 199.0,623.2Z"/><path d="M201.6,635.6 C202.2,636.0 204.5,637.1 205.3,638.0 C206.1,638.9 205.9,640.0 206.5,641.0 C207.2,642.0 208.0,643.8 209.0,644.0 C210.1,644.2 212.2,642.9 212.8,642.2 C213.4,641.5 212.4,640.4 212.8,639.8 C213.2,639.2 213.8,639.1 215.3,638.6 C216.7,638.1 219.3,637.1 221.5,636.8 C223.8,636.5 226.8,636.4 228.9,636.8 C231.0,637.2 232.5,637.8 233.9,639.2 C235.3,640.6 236.3,643.2 237.0,645.2 C237.7,647.2 238.2,649.0 238.3,651.2 C238.4,653.4 238.0,655.9 237.6,658.3 C237.3,660.7 236.8,663.3 236.4,665.5 C236.0,667.7 235.8,669.7 235.1,671.5 C234.5,673.3 233.7,675.1 232.7,676.3 C231.6,677.5 231.2,678.2 228.9,678.7 C226.6,679.2 222.3,679.1 219.0,679.3 C215.7,679.5 212.0,679.7 209.0,679.9 C206.1,680.1 202.8,680.4 201.6,680.5"/><path d="M201.6,644.7 C203.3,644.6 208.4,644.4 212.1,644.2 C215.7,644.0 220.2,643.5 223.5,643.7 C226.8,643.9 229.7,644.1 231.8,645.2 C233.9,646.3 235.2,648.4 236.0,650.2 C236.8,652.0 236.7,654.0 236.5,656.2 C236.3,658.4 235.5,661.0 234.9,663.2 C234.3,665.4 233.7,667.4 232.9,669.2 C232.0,671.0 231.8,673.0 229.7,674.2 C227.7,675.5 223.8,676.2 220.4,676.7 C216.9,677.2 212.1,677.0 208.9,677.2 C205.8,677.4 202.8,677.6 201.6,677.7"/><path d="M201.6,647.0 C203.4,646.9 208.8,646.4 212.8,646.4 C216.7,646.4 222.0,646.4 225.3,647.0 C228.6,647.6 231.0,648.6 232.7,649.9 C234.3,651.2 234.9,652.9 235.1,654.7 C235.4,656.5 234.5,658.7 233.9,660.7 C233.3,662.7 232.4,664.9 231.4,666.7 C230.4,668.5 229.8,670.3 227.8,671.5 C225.7,672.7 222.1,673.4 219.0,673.9 C215.9,674.4 212.0,674.3 209.0,674.5 C206.1,674.7 202.8,675.0 201.6,675.1"/><path d="M201.6,648.7 C203.6,648.6 209.9,648.1 214.0,648.2 C218.2,648.3 223.6,648.6 226.5,649.3 C229.4,650.0 230.4,651.2 231.4,652.3 C232.4,653.4 232.7,654.5 232.7,655.9 C232.7,657.3 232.2,659.1 231.4,660.7 C230.6,662.3 229.8,664.3 227.8,665.5 C225.7,666.7 222.1,667.3 219.0,667.9 C215.9,668.5 212.0,668.8 209.0,669.1 C206.1,669.4 202.8,669.6 201.6,669.7"/><path d="M202.8,651.2 C204.9,651.1 211.5,650.4 215.3,650.5 C219.0,650.6 222.8,651.0 225.3,651.7 C227.7,652.4 229.3,653.6 230.2,654.7 C231.0,655.8 230.8,657.2 230.2,658.3 C229.5,659.4 228.4,660.6 226.5,661.3 C224.7,662.0 221.7,662.2 219.0,662.5 C216.3,662.8 213.0,662.8 210.3,663.1 C207.6,663.4 204.1,664.1 202.8,664.3"/><path d="M202.7,653.2 C204.8,653.1 211.7,652.6 215.2,652.7 C218.6,652.8 221.5,653.1 223.5,653.7 C225.5,654.3 226.8,655.4 227.1,656.2 C227.5,657.0 227.1,658.1 225.6,658.7 C224.1,659.3 220.9,659.5 218.3,659.7 C215.7,660.0 212.6,660.0 210.0,660.2 C207.4,660.4 203.9,660.6 202.7,660.7"/><path d="M201.6,649.8 C203.7,649.7 210.0,649.3 214.1,649.4 C218.3,649.5 223.7,649.7 226.6,650.4 C229.6,651.1 231.0,652.6 231.8,653.7 C232.7,654.8 232.2,655.8 231.8,657.2 C231.5,658.6 230.8,660.7 229.7,662.2 C228.7,663.7 227.5,665.1 225.6,666.2 C223.7,667.3 221.1,668.1 218.3,668.7 C215.5,669.3 211.7,669.4 208.9,669.7 C206.1,670.0 202.8,670.5 201.6,670.7"/><path d="M201.6,639.2 C202.4,639.7 205.5,641.0 206.9,642.2 C208.3,643.4 208.8,645.9 210.0,646.2 C211.2,646.5 212.8,645.1 214.1,644.2 C215.5,643.3 216.2,641.5 218.3,640.7 C220.4,640.0 224.2,639.5 226.6,639.7 C229.0,639.9 231.1,640.5 232.9,641.7 C234.6,643.0 236.3,645.1 237.0,647.2 C237.8,649.3 237.4,651.9 237.3,654.2 C237.3,656.5 236.9,659.0 236.6,661.2 C236.3,663.4 235.9,665.4 235.5,667.2 C235.0,669.0 234.6,670.7 233.9,672.2 C233.2,673.7 232.7,675.2 231.3,676.2 C229.9,677.2 228.1,677.8 225.6,678.2 C223.1,678.6 219.2,678.3 216.2,678.4 C213.3,678.5 210.3,678.6 207.9,678.7 C205.5,678.8 202.6,679.1 201.6,679.2"/><path d="M203.7,672.2 C205.1,672.2 209.3,672.4 212.1,672.2 C214.8,672.0 218.0,671.7 220.4,671.2 C222.8,670.7 225.6,669.5 226.6,669.2"/><ellipse cx="219.0" cy="657.5" rx="5" ry="1.8"/><ellipse cx="206.9" cy="657.2" rx="2.5" ry="1.5"/><path d="M208.9,680.7 C216.2,680.0 226.6,680.2 229.7,681.7 C228.7,683.2 216.2,683.4000000000001 208.9,683.0"/><path d="M253.0,682.8000000000001 C251.6,674.2 251.6,666.2 251.6,652.3 C251.6,646.3 254.6,644.3 259.2,644.3 C263.8,644.3 266.8,646.3 266.8,652.3 C266.8,666.2 266.8,674.2 265.0,682.8000000000001"/><path d="M254.0,682.8000000000001 C252.6,674.2 252.6,666.2 252.6,653.7 C252.6,647.7 255.2,645.7 259.2,645.7 C263.2,645.7 265.8,647.7 265.8,653.7 C265.8,666.2 265.8,674.2 264.0,682.8000000000001"/><path d="M255.0,682.8000000000001 C253.6,674.2 253.6,666.2 253.6,655.2 C253.6,649.2 255.8,647.2 259.2,647.2 C262.6,647.2 264.8,649.2 264.8,655.2 C264.8,666.2 264.8,674.2 263.0,682.8000000000001"/><path d="M255.7,664.2 L259.2,682.7 L263.2,664.2 M256.7,669.2 L258.2,682.7 M262.2,669.2 L260.7,682.7"/></g>
<ellipse cx="260.1" cy="656.6" rx="3.1" ry="6.6" fill="none" stroke="#000" stroke-width="1.3"/>
<rect x="285.5" y="677.6" width="8.5" height="6" fill="none" stroke="#000" stroke-width="0.6"/>
<ellipse cx="260.1" cy="657.2" rx="4.8" ry="10" fill="none" stroke="#444" stroke-width="0.8"/>
<line x1="253.7" y1="682.6" x2="265.2" y2="682.6" stroke="#000" stroke-width="1.2"/>
<path d="M200.5,649.5 C210.0,648.8000000000001 222.5,649.2 229.7,651.7" fill="none" stroke="#000" stroke-width="1.1"/>
<path d="M199.5,621.2 L199.5,632.2" stroke="#333" stroke-width="1"/>
<path d="M199.7,642.2 C200.7,654.2 200.7,666.2 200.1,680.2" fill="none" stroke="#000" stroke-width="1.5"/>
<path d="M200.0,646.2 C201.3,648.2 201.3,652.2 200.3,654.2" fill="none" stroke="#000" stroke-width="1.8"/>
<rect x="313.9" y="591.9" width="97.20000000000005" height="91.89999999999998" fill="none" stroke="#000" stroke-width="0.9"/>
<line x1="361.7" y1="591.9" x2="361.7" y2="683.8" stroke="#000" stroke-width="0.9"/>
<line x1="313.9" y1="634.2" x2="411.1" y2="634.2" stroke="#000" stroke-width="0.9"/>
<rect x="314.7" y="592.6999999999999" width="9.5" height="3.8" fill="none" stroke="#000" stroke-width="0.6"/>
<rect x="315.09999999999997" y="677.8" width="10" height="5.8" fill="none" stroke="#000" stroke-width="0.6"/>
<line x1="312.4" y1="599.9" x2="314.9" y2="599.9" stroke="#000" stroke-width="0.6"/>
<line x1="312.4" y1="610.4" x2="314.9" y2="610.4" stroke="#000" stroke-width="0.6"/>
<line x1="312.4" y1="620.9" x2="314.9" y2="620.9" stroke="#000" stroke-width="0.6"/>
<line x1="312.4" y1="631.4" x2="314.9" y2="631.4" stroke="#000" stroke-width="0.6"/>
<line x1="312.4" y1="641.9" x2="314.9" y2="641.9" stroke="#000" stroke-width="0.6"/>
<line x1="312.4" y1="652.4" x2="314.9" y2="652.4" stroke="#000" stroke-width="0.6"/>
<line x1="312.4" y1="662.9" x2="314.9" y2="662.9" stroke="#000" stroke-width="0.6"/>
<line x1="312.4" y1="673.4" x2="314.9" y2="673.4" stroke="#000" stroke-width="0.6"/>
<line x1="312.4" y1="683.9" x2="314.9" y2="683.9" stroke="#000" stroke-width="0.6"/>
<line x1="317.9" y1="682.3" x2="317.9" y2="684.8" stroke="#000" stroke-width="0.5"/>
<line x1="325.9" y1="682.3" x2="325.9" y2="684.8" stroke="#000" stroke-width="0.5"/>
<line x1="333.9" y1="682.3" x2="333.9" y2="684.8" stroke="#000" stroke-width="0.5"/>
<line x1="341.9" y1="682.3" x2="341.9" y2="684.8" stroke="#000" stroke-width="0.5"/>
<line x1="349.9" y1="682.3" x2="349.9" y2="684.8" stroke="#000" stroke-width="0.5"/>
<line x1="357.9" y1="682.3" x2="357.9" y2="684.8" stroke="#000" stroke-width="0.5"/>
<line x1="365.9" y1="682.3" x2="365.9" y2="684.8" stroke="#000" stroke-width="0.5"/>
<line x1="373.9" y1="682.3" x2="373.9" y2="684.8" stroke="#000" stroke-width="0.5"/>
<line x1="381.9" y1="682.3" x2="381.9" y2="684.8" stroke="#000" stroke-width="0.5"/>
<line x1="389.9" y1="682.3" x2="389.9" y2="684.8" stroke="#000" stroke-width="0.5"/>
<line x1="397.9" y1="682.3" x2="397.9" y2="684.8" stroke="#000" stroke-width="0.5"/>
<line x1="405.9" y1="682.3" x2="405.9" y2="684.8" stroke="#000" stroke-width="0.5"/>
<g fill="none" stroke="#000" stroke-width="0.7"><path d="M315.4,620.1 C316.1,618.8 318.5,622.6 320.3,622.9 C322.2,623.3 324.3,622.6 326.4,622.4 C328.6,622.2 330.9,621.6 333.3,621.7 C335.7,621.8 339.3,622.4 340.9,623.0 C342.5,623.7 343.1,624.8 342.8,625.7 C342.4,626.6 340.8,628.0 338.9,628.4 C337.0,628.8 333.4,628.1 331.1,628.2 C328.9,628.3 327.0,628.8 325.2,629.1 C323.4,629.4 321.9,629.7 320.3,630.0 C318.8,630.4 316.9,632.7 316.0,631.0 C315.2,629.4 314.7,621.5 315.4,620.1Z"/><path d="M315.4,622.4 C316.2,621.8 318.2,624.3 320.0,624.7 C321.8,625.0 323.9,624.4 326.1,624.4 C328.3,624.4 331.6,624.4 333.3,624.6 C335.0,624.8 336.8,625.2 336.3,625.6 C335.8,625.9 332.4,626.3 330.2,626.6 C328.0,626.8 325.1,626.8 323.1,626.9 C321.0,627.1 319.3,627.4 318.0,627.7 C316.7,627.9 315.9,629.2 315.4,628.3 C315.0,627.4 314.7,623.0 315.4,622.4Z"/><path d="M317.7,635.6 C318.3,636.0 320.5,637.1 321.2,638.0 C322.0,638.9 321.8,640.0 322.4,641.0 C323.0,642.0 323.8,643.8 324.8,644.0 C325.8,644.2 327.7,642.9 328.3,642.2 C328.9,641.5 327.9,640.4 328.3,639.8 C328.7,639.2 329.3,639.1 330.7,638.6 C332.0,638.1 334.4,637.1 336.5,636.8 C338.7,636.5 341.6,636.4 343.5,636.8 C345.4,637.2 346.9,637.8 348.2,639.2 C349.5,640.6 350.5,643.2 351.1,645.2 C351.8,647.2 352.2,649.0 352.3,651.2 C352.4,653.4 352.0,655.9 351.7,658.3 C351.4,660.7 350.9,663.3 350.6,665.5 C350.2,667.7 350.0,669.7 349.4,671.5 C348.8,673.3 348.0,675.1 347.0,676.3 C346.0,677.5 345.6,678.2 343.5,678.7 C341.4,679.2 337.3,679.1 334.2,679.3 C331.1,679.5 327.5,679.7 324.8,679.9 C322.0,680.1 318.9,680.4 317.7,680.5"/><path d="M317.7,644.7 C319.4,644.6 324.2,644.4 327.6,644.2 C331.1,644.0 335.3,643.5 338.4,643.7 C341.5,643.9 344.3,644.1 346.2,645.2 C348.2,646.3 349.4,648.4 350.2,650.2 C350.9,652.0 350.8,654.0 350.6,656.2 C350.5,658.4 349.8,661.0 349.2,663.2 C348.6,665.4 348.0,667.4 347.2,669.2 C346.4,671.0 346.2,673.0 344.3,674.2 C342.3,675.5 338.7,676.2 335.5,676.7 C332.2,677.2 327.6,677.0 324.7,677.2 C321.7,677.4 318.9,677.6 317.7,677.7"/><path d="M317.7,647.0 C319.5,646.9 324.6,646.4 328.3,646.4 C332.0,646.4 336.9,646.4 340.1,647.0 C343.2,647.6 345.5,648.6 347.0,649.9 C348.6,651.2 349.2,652.9 349.4,654.7 C349.6,656.5 348.8,658.7 348.2,660.7 C347.6,662.7 346.8,664.9 345.8,666.7 C344.9,668.5 344.4,670.3 342.4,671.5 C340.5,672.7 337.1,673.4 334.2,673.9 C331.2,674.4 327.5,674.3 324.8,674.5 C322.0,674.7 318.9,675.0 317.7,675.1"/><path d="M317.7,648.7 C319.7,648.6 325.6,648.1 329.5,648.2 C333.4,648.3 338.5,648.6 341.2,649.3 C344.0,650.0 344.9,651.2 345.8,652.3 C346.8,653.4 347.0,654.5 347.0,655.9 C347.0,657.3 346.6,659.1 345.8,660.7 C345.1,662.3 344.4,664.3 342.4,665.5 C340.5,666.7 337.1,667.3 334.2,667.9 C331.2,668.5 327.5,668.8 324.8,669.1 C322.0,669.4 318.9,669.6 317.7,669.7"/><path d="M318.9,651.2 C320.9,651.1 327.1,650.4 330.7,650.5 C334.2,650.6 337.7,651.0 340.1,651.7 C342.4,652.4 343.9,653.6 344.7,654.7 C345.4,655.8 345.2,657.2 344.7,658.3 C344.1,659.4 343.0,660.6 341.2,661.3 C339.5,662.0 336.7,662.2 334.2,662.5 C331.6,662.8 328.5,662.8 326.0,663.1 C323.4,663.4 320.1,664.1 318.9,664.3"/><path d="M318.8,653.2 C320.8,653.1 327.3,652.6 330.6,652.7 C333.8,652.8 336.5,653.1 338.4,653.7 C340.3,654.3 341.5,655.4 341.8,656.2 C342.2,657.0 341.7,658.1 340.4,658.7 C339.0,659.3 335.9,659.5 333.5,659.7 C331.1,660.0 328.1,660.0 325.7,660.2 C323.2,660.4 319.9,660.6 318.8,660.7"/><path d="M317.7,649.8 C319.7,649.7 325.6,649.3 329.6,649.4 C333.5,649.5 338.6,649.7 341.3,650.4 C344.1,651.1 345.4,652.6 346.2,653.7 C347.1,654.8 346.6,655.8 346.2,657.2 C345.9,658.6 345.3,660.7 344.3,662.2 C343.3,663.7 342.2,665.1 340.4,666.2 C338.6,667.3 336.1,668.1 333.5,668.7 C330.9,669.3 327.3,669.4 324.7,669.7 C322.1,670.0 318.9,670.5 317.7,670.7"/><path d="M317.7,639.2 C318.6,639.7 321.4,641.0 322.7,642.2 C324.0,643.4 324.5,645.9 325.7,646.2 C326.8,646.5 328.3,645.1 329.6,644.2 C330.9,643.3 331.5,641.5 333.5,640.7 C335.5,640.0 339.1,639.5 341.3,639.7 C343.6,639.9 345.6,640.5 347.2,641.7 C348.9,643.0 350.4,645.1 351.1,647.2 C351.8,649.3 351.5,651.9 351.4,654.2 C351.4,656.5 351.0,659.0 350.7,661.2 C350.5,663.4 350.1,665.4 349.7,667.2 C349.2,669.0 348.9,670.7 348.2,672.2 C347.5,673.7 347.1,675.2 345.8,676.2 C344.4,677.2 342.7,677.8 340.4,678.2 C338.0,678.6 334.3,678.3 331.5,678.4 C328.8,678.5 326.0,678.6 323.7,678.7 C321.4,678.8 318.7,679.1 317.7,679.2"/><path d="M319.8,672.2 C321.1,672.2 325.0,672.4 327.6,672.2 C330.2,672.0 333.2,671.7 335.5,671.2 C337.7,670.7 340.4,669.5 341.3,669.2"/><ellipse cx="334.2" cy="657.5" rx="5" ry="1.8"/><ellipse cx="322.7" cy="657.2" rx="2.5" ry="1.5"/><path d="M324.7,680.7 C331.5,680.0 341.3,680.2 344.3,681.7 C343.3,683.2 331.5,683.4000000000001 324.7,683.0"/><path d="M369.7,682.8000000000001 C368.7,674.2 368.7,666.2 368.7,652.3 C368.7,646.3 371.6,644.3 375.9,644.3 C380.2,644.3 383.1,646.3 383.1,652.3 C383.1,666.2 383.1,674.2 381.7,682.8000000000001"/><path d="M370.7,682.8000000000001 C369.6,674.2 369.6,666.2 369.6,653.7 C369.6,647.7 372.1,645.7 375.9,645.7 C379.7,645.7 382.2,647.7 382.2,653.7 C382.2,666.2 382.2,674.2 380.7,682.8000000000001"/><path d="M371.7,682.8000000000001 C370.6,674.2 370.6,666.2 370.6,655.2 C370.6,649.2 372.7,647.2 375.9,647.2 C379.1,647.2 381.2,649.2 381.2,655.2 C381.2,666.2 381.2,674.2 379.7,682.8000000000001"/><path d="M372.4,664.2 L375.9,682.7 L379.9,664.2 M373.4,669.2 L374.9,682.7 M378.9,669.2 L377.4,682.7"/></g>
<ellipse cx="376.8" cy="656.6" rx="3.1" ry="6.6" fill="none" stroke="#000" stroke-width="1.3"/>
<rect x="401.6" y="677.5" width="8.5" height="6" fill="none" stroke="#000" stroke-width="0.6"/>
<ellipse cx="376.8" cy="657.2" rx="4.8" ry="10" fill="none" stroke="#444" stroke-width="0.8"/>
<line x1="370.4" y1="682.6" x2="381.9" y2="682.6" stroke="#000" stroke-width="1.2"/>
<path d="M316.9,649.5 C325.7,648.8000000000001 337.4,649.2 344.3,651.7" fill="none" stroke="#000" stroke-width="1.1"/>
<path d="M315.9,621.2 L315.9,632.2" stroke="#333" stroke-width="1"/>
<path d="M316.09999999999997,642.2 C317.09999999999997,654.2 317.09999999999997,666.2 316.5,680.2" fill="none" stroke="#000" stroke-width="1.5"/>
<path d="M316.4,646.2 C317.7,648.2 317.7,652.2 316.7,654.2" fill="none" stroke="#000" stroke-width="1.8"/>
<text x="83.3" y="612.3" style="font-family:'Liberation Serif',serif;font-size:19.5px;" >5.4</text>
<text x="198.7" y="612.9" style="font-family:'Liberation Serif',serif;font-size:19.5px;" >5.9</text>
<text x="314.8" y="612.7" style="font-family:'Liberation Serif',serif;font-size:19.5px;" >6.4</text>
<text x="159.5" y="685.8" style="font-family:'Liberation Serif',serif;font-size:18px;" textLength="18.5" lengthAdjust="spacingAndGlyphs" >22</text>
<text x="272.2" y="686.3" style="font-family:'Liberation Serif',serif;font-size:18px;" textLength="18.5" lengthAdjust="spacingAndGlyphs" >22</text>
<text x="388" y="686.3" style="font-family:'Liberation Serif',serif;font-size:18px;" textLength="18.5" lengthAdjust="spacingAndGlyphs" >23</text>
<rect x="97.5" y="691.2" width="279" height="3.5" fill="#000"/>
<polygon points="375.2,685.1 391.8,693 375.2,701" fill="#000"/>
<text x="226.5" y="712.8" style="font-family:'Liberation Serif',serif;font-size:20px;" textLength="37.5" lengthAdjust="spacingAndGlyphs" >CD4</text>
<text transform="translate(70.7,659) rotate(-90)" style="font-family:'Liberation Serif',serif;font-size:20px" textLength="37.5" lengthAdjust="spacingAndGlyphs">DX5</text>
<g stroke="#000" stroke-width="1.3" fill="none">
<line x1="75.2" y1="721.2" x2="75.2" y2="893.5"/>
<line x1="69.4" y1="721.2" x2="75.2" y2="721.2"/>
<line x1="69.4" y1="764.1" x2="75.2" y2="764.1"/>
<line x1="69.4" y1="807.1" x2="75.2" y2="807.1"/>
<line x1="69.4" y1="850.0" x2="75.2" y2="850.0"/>
<line x1="69.4" y1="893.0" x2="75.2" y2="893.0"/>
<line x1="75.2" y1="893.3" x2="394" y2="893.3"/>
<line x1="75.5" y1="893.3" x2="75.5" y2="900"/>
<line x1="154.7" y1="893.3" x2="154.7" y2="900"/>
<line x1="234.6" y1="893.3" x2="234.6" y2="900"/>
<line x1="314.3" y1="893.3" x2="314.3" y2="900"/>
<line x1="393.5" y1="893.3" x2="393.5" y2="900"/>
</g>
<text x="55.8" y="722.8" text-anchor="end" style="font-family:'Liberation Serif',serif;font-size:19.3px">16</text>
<text x="55.8" y="765.7" text-anchor="end" style="font-family:'Liberation Serif',serif;font-size:19.3px">12</text>
<text x="57.8" y="808.7" text-anchor="end" style="font-family:'Liberation Serif',serif;font-size:19.3px">8</text>
<text x="57.8" y="851.6" text-anchor="end" style="font-family:'Liberation Serif',serif;font-size:19.3px">4</text>
<text x="57.8" y="894.6" text-anchor="end" style="font-family:'Liberation Serif',serif;font-size:19.3px">0</text>
<text transform="translate(21.3,866) rotate(-90)" style="font-family:'Liberation Serif',serif;font-size:19.5px" textLength="124" lengthAdjust="spacingAndGlyphs">% specific lysis</text>
<g stroke="#000" stroke-width="1.9" fill="none">
<polyline points="114.8,891.9 194.2,875.8 273.5,855.4 352.8,809.2"/>
<polyline points="114.8,891.9 194.2,872.6 273.5,806.0 352.8,760.4"/>
<polyline points="114.8,857.6 194.2,845.7 273.5,813.5 352.8,744.8"/>
</g>
<g stroke="#000" stroke-width="1"><line x1="114.8" y1="845.2" x2="114.8" y2="869.1"/><line x1="111.8" y1="845.2" x2="117.8" y2="845.2"/><line x1="111.8" y1="869.1" x2="117.8" y2="869.1"/></g>
<g stroke="#000" stroke-width="1"><line x1="194.2" y1="835.6" x2="194.2" y2="857"/><line x1="191.2" y1="835.6" x2="197.2" y2="835.6"/><line x1="191.2" y1="857" x2="197.2" y2="857"/></g>
<g stroke="#000" stroke-width="1"><line x1="273.5" y1="808" x2="273.5" y2="825"/><line x1="270.5" y1="808" x2="276.5" y2="808"/><line x1="270.5" y1="825" x2="276.5" y2="825"/></g>
<g stroke="#000" stroke-width="1"><line x1="352.8" y1="740" x2="352.8" y2="748"/><line x1="349.8" y1="740" x2="355.8" y2="740"/><line x1="349.8" y1="748" x2="355.8" y2="748"/></g>
<rect x="106.8" y="849.558" width="16" height="16" fill="#000"/>
<rect x="186.2" y="837.744" width="16" height="16" fill="#000"/>
<rect x="265.5" y="805.524" width="16" height="16" fill="#000"/>
<rect x="344.8" y="736.788" width="16" height="16" fill="#000"/>
<circle cx="114.8" cy="891.926" r="8.2" fill="#a2a2a2" stroke="#000" stroke-width="1.3"/>
<circle cx="194.2" cy="875.816" r="8.2" fill="#a2a2a2" stroke="#000" stroke-width="1.3"/>
<circle cx="273.5" cy="855.41" r="8.2" fill="#a2a2a2" stroke="#000" stroke-width="1.3"/>
<circle cx="352.8" cy="809.228" r="8.2" fill="#a2a2a2" stroke="#000" stroke-width="1.3"/>
<circle cx="114.8" cy="891.926" r="8.4" fill="#fff" stroke="#000" stroke-width="1.3"/>
<circle cx="194.2" cy="872.594" r="8.4" fill="#fff" stroke="#000" stroke-width="1.3"/>
<circle cx="273.5" cy="806.006" r="8.4" fill="#fff" stroke="#000" stroke-width="1.3"/>
<circle cx="352.8" cy="760.361" r="8.4" fill="#fff" stroke="#000" stroke-width="1.3"/>
<path d="M299.00,864.60 L299.80,860.35 L297.40,860.35 L298.20,864.60Z M297.25,860.35 a1.35,1.35 0 1,0 2.70,0 a1.35,1.35 0 1,0 -2.70,0Z M298.20,864.60 L297.40,868.85 L299.80,868.85 L299.00,864.60Z M297.25,868.85 a1.35,1.35 0 1,0 2.70,0 a1.35,1.35 0 1,0 -2.70,0Z M298.80,864.95 L302.88,863.51 L301.68,861.44 L298.40,864.25Z M300.93,862.48 a1.35,1.35 0 1,0 2.70,0 a1.35,1.35 0 1,0 -2.70,0Z M298.80,864.25 L295.52,861.44 L294.32,863.51 L298.40,864.95Z M293.57,862.48 a1.35,1.35 0 1,0 2.70,0 a1.35,1.35 0 1,0 -2.70,0Z M298.40,864.25 L294.32,865.69 L295.52,867.76 L298.80,864.95Z M293.57,866.73 a1.35,1.35 0 1,0 2.70,0 a1.35,1.35 0 1,0 -2.70,0Z M298.40,864.95 L301.68,867.76 L302.88,865.69 L298.80,864.25Z M300.93,866.73 a1.35,1.35 0 1,0 2.70,0 a1.35,1.35 0 1,0 -2.70,0Z " fill="#000"/>
<circle cx="298.6" cy="864.6" r="0.8" fill="#000"/>
<path d="M377.30,826.50 L378.10,822.25 L375.70,822.25 L376.50,826.50Z M375.55,822.25 a1.35,1.35 0 1,0 2.70,0 a1.35,1.35 0 1,0 -2.70,0Z M376.50,826.50 L375.70,830.75 L378.10,830.75 L377.30,826.50Z M375.55,830.75 a1.35,1.35 0 1,0 2.70,0 a1.35,1.35 0 1,0 -2.70,0Z M377.10,826.85 L381.18,825.41 L379.98,823.34 L376.70,826.15Z M379.23,824.38 a1.35,1.35 0 1,0 2.70,0 a1.35,1.35 0 1,0 -2.70,0Z M377.10,826.15 L373.82,823.34 L372.62,825.41 L376.70,826.85Z M371.87,824.38 a1.35,1.35 0 1,0 2.70,0 a1.35,1.35 0 1,0 -2.70,0Z M376.70,826.15 L372.62,827.59 L373.82,829.66 L377.10,826.85Z M371.87,828.62 a1.35,1.35 0 1,0 2.70,0 a1.35,1.35 0 1,0 -2.70,0Z M376.70,826.85 L379.98,829.66 L381.18,827.59 L377.10,826.15Z M379.23,828.62 a1.35,1.35 0 1,0 2.70,0 a1.35,1.35 0 1,0 -2.70,0Z " fill="#000"/>
<circle cx="376.9" cy="826.5" r="0.8" fill="#000"/>
<text x="87.6" y="933.4" style="font-family:'Liberation Serif',serif;font-size:18px;" textLength="47.5" lengthAdjust="spacingAndGlyphs" >12.5:1</text>
<text x="174.7" y="933.4" style="font-family:'Liberation Serif',serif;font-size:18px;" textLength="33.5" lengthAdjust="spacingAndGlyphs" >25:1</text>
<text x="254.8" y="933.4" style="font-family:'Liberation Serif',serif;font-size:18px;" textLength="33.5" lengthAdjust="spacingAndGlyphs" >50:1</text>
<text x="328.3" y="933.4" style="font-family:'Liberation Serif',serif;font-size:18px;" textLength="41.8" lengthAdjust="spacingAndGlyphs" >100:1</text>
<text x="212.7" y="960.7" style="font-family:'Liberation Serif',serif;font-size:19px;" textLength="30" lengthAdjust="spacingAndGlyphs" >E/T</text>
<text transform="translate(1.6,1035) scale(0.94,1)" style="font-family:'Liberation Sans',sans-serif;font-weight:bold;font-size:42px">C</text>
<g stroke="#000" stroke-width="1.3" fill="none">
<line x1="76.7" y1="1048.7" x2="76.7" y2="1234.3"/>
<line x1="70.5" y1="1048.4" x2="76.7" y2="1048.4"/>
<line x1="70.5" y1="1085.5" x2="76.7" y2="1085.5"/>
<line x1="70.5" y1="1122.7" x2="76.7" y2="1122.7"/>
<line x1="70.5" y1="1159.8" x2="76.7" y2="1159.8"/>
<line x1="70.5" y1="1196.9" x2="76.7" y2="1196.9"/>
<line x1="70.5" y1="1234.0" x2="76.7" y2="1234.0"/>
<line x1="76.7" y1="1196.9" x2="368.2" y2="1196.9"/>
<line x1="150.3" y1="1196.9" x2="150.3" y2="1203.3"/>
<line x1="223" y1="1196.9" x2="223" y2="1203.3"/>
<line x1="295.4" y1="1196.9" x2="295.4" y2="1203.3"/>
<line x1="368.2" y1="1196.9" x2="368.2" y2="1203.3"/>
</g>
<text x="60.5" y="1057.9" text-anchor="end" style="font-family:'Liberation Serif',serif;font-size:19px">16</text>
<text x="60.5" y="1095.0" text-anchor="end" style="font-family:'Liberation Serif',serif;font-size:19px">12</text>
<text x="60.5" y="1132.2" text-anchor="end" style="font-family:'Liberation Serif',serif;font-size:19px">8</text>
<text x="60.5" y="1169.3" text-anchor="end" style="font-family:'Liberation Serif',serif;font-size:19px">4</text>
<text x="60.5" y="1206.4" text-anchor="end" style="font-family:'Liberation Serif',serif;font-size:19px">0</text>
<text x="60.5" y="1243.5" text-anchor="end" style="font-family:'Liberation Serif',serif;font-size:19px">-4</text>
<text transform="translate(26.8,1197.5) rotate(-90)" style="font-family:'Liberation Serif',serif;font-size:19.5px" textLength="122" lengthAdjust="spacingAndGlyphs">% specific lysis</text>
<text x="93" y="1058.5" style="font-family:'Liberation Serif',serif;font-size:19px" textLength="131" lengthAdjust="spacingAndGlyphs"><tspan style="font-style:italic">In vivo</tspan> depletion</text>
<line x1="119.3" y1="1076.6" x2="148.4" y2="1076.6" stroke="#000" stroke-width="1.4"/>
<rect x="127.6" y="1070.8" width="11.5" height="11.6" fill="#000"/>
<line x1="119.3" y1="1104.3" x2="148.4" y2="1104.3" stroke="#000" stroke-width="1.4"/>
<polygon points="133.8,1098.4 139.6,1104.4 133.8,1110.4 128,1104.4" fill="#fff" stroke="#000" stroke-width="1.1"/>
<text x="153" y="1085.3" style="font-family:'Liberation Serif',serif;font-size:19px;" textLength="38" lengthAdjust="spacingAndGlyphs" >none</text>
<text x="153" y="1113" style="font-family:'Liberation Serif',serif;font-size:18.5px;" textLength="27.5" lengthAdjust="spacingAndGlyphs" >NK</text>
<g stroke="#000" stroke-width="1.9" fill="none">
<polyline points="113.0,1165.3 186.3,1155.1 258.5,1128.2 331.3,1068.8"/>
<polyline points="113.0,1195.0 186.3,1192.3 258.5,1188.5 331.3,1176.5"/>
</g>
<g stroke="#000" stroke-width="1"><line x1="113" y1="1154.9" x2="113" y2="1176"/><line x1="110" y1="1154.9" x2="116" y2="1154.9"/><line x1="110" y1="1176" x2="116" y2="1176"/></g>
<g stroke="#000" stroke-width="1"><line x1="186.3" y1="1145.9" x2="186.3" y2="1166.6"/><line x1="183.3" y1="1145.9" x2="189.3" y2="1145.9"/><line x1="183.3" y1="1166.6" x2="189.3" y2="1166.6"/></g>
<g stroke="#000" stroke-width="1"><line x1="258.5" y1="1119.4" x2="258.5" y2="1137.8"/><line x1="255.5" y1="1119.4" x2="261.5" y2="1119.4"/><line x1="255.5" y1="1137.8" x2="261.5" y2="1137.8"/></g>
<g stroke="#000" stroke-width="1"><line x1="331.3" y1="1066" x2="331.3" y2="1071"/><line x1="328.3" y1="1066" x2="334.3" y2="1066"/><line x1="328.3" y1="1071" x2="334.3" y2="1071"/></g>
<rect x="105.5" y="1158.0480000000002" width="15" height="14.6" fill="#000"/>
<rect x="178.8" y="1147.8400000000001" width="15" height="14.6" fill="#000"/>
<rect x="251.0" y="1120.928" width="15" height="14.6" fill="#000"/>
<rect x="323.8" y="1061.536" width="15" height="14.6" fill="#000"/>
<polygon points="113,1187.044 121,1195.044 113,1203.044 105,1195.044" fill="#fff" stroke="#000" stroke-width="1.2"/>
<polygon points="186.3,1184.26 194.3,1192.26 186.3,1200.26 178.3,1192.26" fill="#fff" stroke="#000" stroke-width="1.2"/>
<polygon points="258.5,1180.548 266.5,1188.548 258.5,1196.548 250.5,1188.548" fill="#fff" stroke="#000" stroke-width="1.2"/>
<polygon points="331.3,1168.4840000000002 339.3,1176.4840000000002 331.3,1184.4840000000002 323.3,1176.4840000000002" fill="#fff" stroke="#000" stroke-width="1.2"/>
<path d="M128.60,1184.90 L129.40,1180.65 L127.00,1180.65 L127.80,1184.90Z M126.85,1180.65 a1.35,1.35 0 1,0 2.70,0 a1.35,1.35 0 1,0 -2.70,0Z M127.80,1184.90 L127.00,1189.15 L129.40,1189.15 L128.60,1184.90Z M126.85,1189.15 a1.35,1.35 0 1,0 2.70,0 a1.35,1.35 0 1,0 -2.70,0Z M128.40,1185.25 L132.48,1183.81 L131.28,1181.74 L128.00,1184.55Z M130.53,1182.78 a1.35,1.35 0 1,0 2.70,0 a1.35,1.35 0 1,0 -2.70,0Z M128.40,1184.55 L125.12,1181.74 L123.92,1183.81 L128.00,1185.25Z M123.17,1182.78 a1.35,1.35 0 1,0 2.70,0 a1.35,1.35 0 1,0 -2.70,0Z M128.00,1184.55 L123.92,1185.99 L125.12,1188.06 L128.40,1185.25Z M123.17,1187.03 a1.35,1.35 0 1,0 2.70,0 a1.35,1.35 0 1,0 -2.70,0Z M128.00,1185.25 L131.28,1188.06 L132.48,1185.99 L128.40,1184.55Z M130.53,1187.03 a1.35,1.35 0 1,0 2.70,0 a1.35,1.35 0 1,0 -2.70,0Z " fill="#000"/>
<circle cx="128.2" cy="1184.9" r="0.8" fill="#000"/>
<path d="M199.10,1179.00 L199.90,1174.75 L197.50,1174.75 L198.30,1179.00Z M197.35,1174.75 a1.35,1.35 0 1,0 2.70,0 a1.35,1.35 0 1,0 -2.70,0Z M198.30,1179.00 L197.50,1183.25 L199.90,1183.25 L199.10,1179.00Z M197.35,1183.25 a1.35,1.35 0 1,0 2.70,0 a1.35,1.35 0 1,0 -2.70,0Z M198.90,1179.35 L202.98,1177.91 L201.78,1175.84 L198.50,1178.65Z M201.03,1176.88 a1.35,1.35 0 1,0 2.70,0 a1.35,1.35 0 1,0 -2.70,0Z M198.90,1178.65 L195.62,1175.84 L194.42,1177.91 L198.50,1179.35Z M193.67,1176.88 a1.35,1.35 0 1,0 2.70,0 a1.35,1.35 0 1,0 -2.70,0Z M198.50,1178.65 L194.42,1180.09 L195.62,1182.16 L198.90,1179.35Z M193.67,1181.12 a1.35,1.35 0 1,0 2.70,0 a1.35,1.35 0 1,0 -2.70,0Z M198.50,1179.35 L201.78,1182.16 L202.98,1180.09 L198.90,1178.65Z M201.03,1181.12 a1.35,1.35 0 1,0 2.70,0 a1.35,1.35 0 1,0 -2.70,0Z " fill="#000"/>
<circle cx="198.7" cy="1179" r="0.8" fill="#000"/>
<path d="M268.00,1173.30 L268.80,1169.05 L266.40,1169.05 L267.20,1173.30Z M266.25,1169.05 a1.35,1.35 0 1,0 2.70,0 a1.35,1.35 0 1,0 -2.70,0Z M267.20,1173.30 L266.40,1177.55 L268.80,1177.55 L268.00,1173.30Z M266.25,1177.55 a1.35,1.35 0 1,0 2.70,0 a1.35,1.35 0 1,0 -2.70,0Z M267.80,1173.65 L271.88,1172.21 L270.68,1170.14 L267.40,1172.95Z M269.93,1171.17 a1.35,1.35 0 1,0 2.70,0 a1.35,1.35 0 1,0 -2.70,0Z M267.80,1172.95 L264.52,1170.14 L263.32,1172.21 L267.40,1173.65Z M262.57,1171.17 a1.35,1.35 0 1,0 2.70,0 a1.35,1.35 0 1,0 -2.70,0Z M267.40,1172.95 L263.32,1174.39 L264.52,1176.46 L267.80,1173.65Z M262.57,1175.42 a1.35,1.35 0 1,0 2.70,0 a1.35,1.35 0 1,0 -2.70,0Z M267.40,1173.65 L270.68,1176.46 L271.88,1174.39 L267.80,1172.95Z M269.93,1175.42 a1.35,1.35 0 1,0 2.70,0 a1.35,1.35 0 1,0 -2.70,0Z " fill="#000"/>
<circle cx="267.6" cy="1173.3" r="0.8" fill="#000"/>
<path d="M350.30,1160.50 L351.10,1156.25 L348.70,1156.25 L349.50,1160.50Z M348.55,1156.25 a1.35,1.35 0 1,0 2.70,0 a1.35,1.35 0 1,0 -2.70,0Z M349.50,1160.50 L348.70,1164.75 L351.10,1164.75 L350.30,1160.50Z M348.55,1164.75 a1.35,1.35 0 1,0 2.70,0 a1.35,1.35 0 1,0 -2.70,0Z M350.10,1160.85 L354.18,1159.41 L352.98,1157.34 L349.70,1160.15Z M352.23,1158.38 a1.35,1.35 0 1,0 2.70,0 a1.35,1.35 0 1,0 -2.70,0Z M350.10,1160.15 L346.82,1157.34 L345.62,1159.41 L349.70,1160.85Z M344.87,1158.38 a1.35,1.35 0 1,0 2.70,0 a1.35,1.35 0 1,0 -2.70,0Z M349.70,1160.15 L345.62,1161.59 L346.82,1163.66 L350.10,1160.85Z M344.87,1162.62 a1.35,1.35 0 1,0 2.70,0 a1.35,1.35 0 1,0 -2.70,0Z M349.70,1160.85 L352.98,1163.66 L354.18,1161.59 L350.10,1160.15Z M352.23,1162.62 a1.35,1.35 0 1,0 2.70,0 a1.35,1.35 0 1,0 -2.70,0Z " fill="#000"/>
<circle cx="349.9" cy="1160.5" r="0.8" fill="#000"/>
<text x="88" y="1236" style="font-family:'Liberation Serif',serif;font-size:18.3px;" textLength="47.5" lengthAdjust="spacingAndGlyphs" >12.5:1</text>
<text x="167.6" y="1236" style="font-family:'Liberation Serif',serif;font-size:18.3px;" textLength="34" lengthAdjust="spacingAndGlyphs" >25:1</text>
<text x="241" y="1236" style="font-family:'Liberation Serif',serif;font-size:18.3px;" textLength="34" lengthAdjust="spacingAndGlyphs" >50:1</text>
<text x="309.4" y="1236" style="font-family:'Liberation Serif',serif;font-size:18.3px;" textLength="42.5" lengthAdjust="spacingAndGlyphs" >100:1</text>
<text x="208.6" y="1277.9" style="font-family:'Liberation Serif',serif;font-size:19px;" textLength="28.5" lengthAdjust="spacingAndGlyphs" >E/T</text>
</svg>
</body></html>
